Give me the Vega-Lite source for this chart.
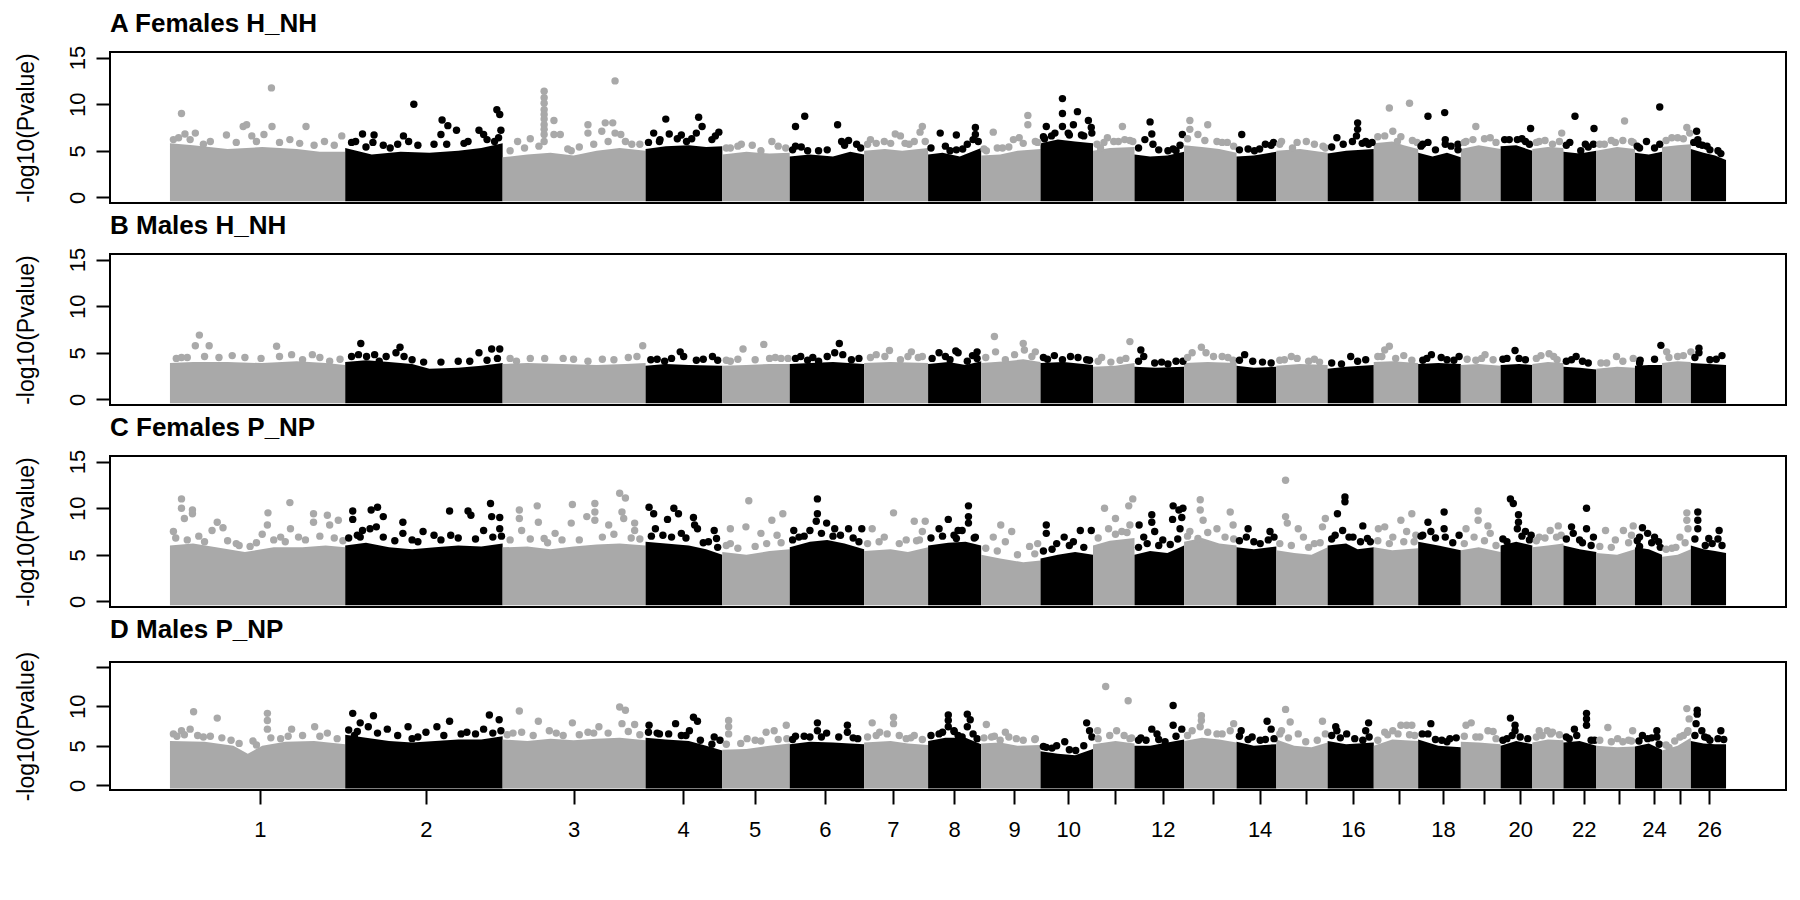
{
  "$schema": "https://vega.github.io/schema/vega-lite/v6.json",
  "padding": {"left": 14, "top": 10, "right": 5, "bottom": 5},
  "spacing": 7,
  "config": {
    "font": "Liberation Sans",
    "view": {"stroke": "#000000", "strokeWidth": 2},
    "axis": {"grid": false, "domain": false, "tickColor": "#000000", "tickWidth": 2, "tickSize": 14,
             "labelColor": "#000000", "labelFontSize": 22, "labelFont": "Liberation Sans",
             "titleColor": "#000000", "titleFontSize": 23, "titleFontWeight": "normal", "titleFont": "Liberation Sans"},
    "axisY": {"labelAngle": 270, "labelAlign": "center", "labelBaseline": "alphabetic", "labelPadding": 12, "titlePadding": 28},
    "axisX": {"labelAngle": 0, "labelPadding": 15, "labelFlush": false, "labelOverlap": false},
    "title": {"anchor": "start", "frame": "group", "fontSize": 26, "fontWeight": "bold", "color": "#000000", "offset": 8}
  },
  "resolve": {"scale": {"x": "independent", "y": "independent", "color": "shared"}},
  "datasets": {
    "band": [
      {"panel":"A","chr":1,"pos":0,"y":5.8},{"panel":"A","chr":1,"pos":40,"y":5.6},{"panel":"A","chr":1,"pos":100,"y":5.2},{"panel":"A","chr":1,"pos":160,"y":5.4},{"panel":"A","chr":1,"pos":220,"y":5.2},{"panel":"A","chr":1,"pos":260,"y":4.9},{"panel":"A","chr":1,"pos":304,"y":4.9},
      {"panel":"A","chr":2,"pos":304,"y":5.3},{"panel":"A","chr":2,"pos":350,"y":4.6},{"panel":"A","chr":2,"pos":400,"y":4.9},{"panel":"A","chr":2,"pos":450,"y":4.8},{"panel":"A","chr":2,"pos":500,"y":5.0},{"panel":"A","chr":2,"pos":540,"y":5.3},{"panel":"A","chr":2,"pos":577,"y":5.8},
      {"panel":"A","chr":3,"pos":577,"y":4.3},{"panel":"A","chr":3,"pos":620,"y":4.6},{"panel":"A","chr":3,"pos":660,"y":4.8},{"panel":"A","chr":3,"pos":700,"y":4.5},{"panel":"A","chr":3,"pos":740,"y":5.0},{"panel":"A","chr":3,"pos":780,"y":5.3},{"panel":"A","chr":3,"pos":825,"y":5.0},
      {"panel":"A","chr":4,"pos":825,"y":5.2},{"panel":"A","chr":4,"pos":860,"y":5.5},{"panel":"A","chr":4,"pos":900,"y":5.6},{"panel":"A","chr":4,"pos":930,"y":5.4},{"panel":"A","chr":4,"pos":958,"y":5.5},
      {"panel":"A","chr":5,"pos":958,"y":4.6},{"panel":"A","chr":5,"pos":1000,"y":4.9},{"panel":"A","chr":5,"pos":1040,"y":4.7},{"panel":"A","chr":5,"pos":1075,"y":4.8},
      {"panel":"A","chr":6,"pos":1075,"y":4.4},{"panel":"A","chr":6,"pos":1110,"y":4.6},{"panel":"A","chr":6,"pos":1150,"y":4.4},{"panel":"A","chr":6,"pos":1180,"y":4.9},{"panel":"A","chr":6,"pos":1204,"y":4.6},
      {"panel":"A","chr":7,"pos":1204,"y":5.0},{"panel":"A","chr":7,"pos":1240,"y":5.2},{"panel":"A","chr":7,"pos":1270,"y":5.0},{"panel":"A","chr":7,"pos":1315,"y":5.3},
      {"panel":"A","chr":8,"pos":1315,"y":4.6},{"panel":"A","chr":8,"pos":1340,"y":4.8},{"panel":"A","chr":8,"pos":1370,"y":4.4},{"panel":"A","chr":8,"pos":1407,"y":5.3},
      {"panel":"A","chr":9,"pos":1407,"y":4.5},{"panel":"A","chr":9,"pos":1440,"y":4.6},{"panel":"A","chr":9,"pos":1470,"y":5.0},{"panel":"A","chr":9,"pos":1510,"y":5.2},
      {"panel":"A","chr":10,"pos":1510,"y":5.8},{"panel":"A","chr":10,"pos":1540,"y":6.2},{"panel":"A","chr":10,"pos":1570,"y":6.0},{"panel":"A","chr":10,"pos":1601,"y":5.8},
      {"panel":"A","chr":11,"pos":1601,"y":5.0},{"panel":"A","chr":11,"pos":1630,"y":5.3},{"panel":"A","chr":11,"pos":1673,"y":5.4},
      {"panel":"A","chr":12,"pos":1673,"y":4.6},{"panel":"A","chr":12,"pos":1700,"y":4.4},{"panel":"A","chr":12,"pos":1730,"y":4.5},{"panel":"A","chr":12,"pos":1759,"y":4.9},
      {"panel":"A","chr":13,"pos":1759,"y":5.6},{"panel":"A","chr":13,"pos":1790,"y":5.4},{"panel":"A","chr":13,"pos":1820,"y":5.2},{"panel":"A","chr":13,"pos":1850,"y":4.8},
      {"panel":"A","chr":14,"pos":1850,"y":4.4},{"panel":"A","chr":14,"pos":1880,"y":4.5},{"panel":"A","chr":14,"pos":1919,"y":4.9},
      {"panel":"A","chr":15,"pos":1919,"y":5.0},{"panel":"A","chr":15,"pos":1960,"y":5.2},{"panel":"A","chr":15,"pos":2008,"y":4.8},
      {"panel":"A","chr":16,"pos":2008,"y":4.7},{"panel":"A","chr":16,"pos":2040,"y":5.0},{"panel":"A","chr":16,"pos":2088,"y":5.2},
      {"panel":"A","chr":17,"pos":2088,"y":5.8},{"panel":"A","chr":17,"pos":2120,"y":6.0},{"panel":"A","chr":17,"pos":2140,"y":5.6},{"panel":"A","chr":17,"pos":2165,"y":5.2},
      {"panel":"A","chr":18,"pos":2165,"y":4.8},{"panel":"A","chr":18,"pos":2190,"y":4.4},{"panel":"A","chr":18,"pos":2215,"y":4.8},{"panel":"A","chr":18,"pos":2239,"y":4.3},
      {"panel":"A","chr":19,"pos":2239,"y":5.2},{"panel":"A","chr":19,"pos":2270,"y":5.6},{"panel":"A","chr":19,"pos":2308,"y":5.2},
      {"panel":"A","chr":20,"pos":2308,"y":5.5},{"panel":"A","chr":20,"pos":2335,"y":5.6},{"panel":"A","chr":20,"pos":2363,"y":5.0},
      {"panel":"A","chr":21,"pos":2363,"y":5.2},{"panel":"A","chr":21,"pos":2390,"y":5.4},{"panel":"A","chr":21,"pos":2417,"y":5.3},
      {"panel":"A","chr":22,"pos":2417,"y":4.9},{"panel":"A","chr":22,"pos":2445,"y":4.7},{"panel":"A","chr":22,"pos":2474,"y":5.0},
      {"panel":"A","chr":23,"pos":2474,"y":5.0},{"panel":"A","chr":23,"pos":2510,"y":5.4},{"panel":"A","chr":23,"pos":2541,"y":5.2},
      {"panel":"A","chr":24,"pos":2541,"y":4.8},{"panel":"A","chr":24,"pos":2565,"y":4.6},{"panel":"A","chr":24,"pos":2588,"y":4.9},
      {"panel":"A","chr":25,"pos":2588,"y":5.4},{"panel":"A","chr":25,"pos":2615,"y":5.6},{"panel":"A","chr":25,"pos":2638,"y":5.7},
      {"panel":"A","chr":26,"pos":2638,"y":5.2},{"panel":"A","chr":26,"pos":2660,"y":4.8},{"panel":"A","chr":26,"pos":2680,"y":4.5},{"panel":"A","chr":26,"pos":2699,"y":4.0},

      {"panel":"B","chr":1,"pos":0,"y":3.9},{"panel":"B","chr":1,"pos":40,"y":4.0},{"panel":"B","chr":1,"pos":100,"y":4.0},{"panel":"B","chr":1,"pos":160,"y":3.9},{"panel":"B","chr":1,"pos":220,"y":4.1},{"panel":"B","chr":1,"pos":270,"y":3.9},{"panel":"B","chr":1,"pos":304,"y":3.7},
      {"panel":"B","chr":2,"pos":304,"y":4.0},{"panel":"B","chr":2,"pos":340,"y":4.2},{"panel":"B","chr":2,"pos":380,"y":4.0},{"panel":"B","chr":2,"pos":420,"y":3.8},{"panel":"B","chr":2,"pos":450,"y":3.3},{"panel":"B","chr":2,"pos":500,"y":3.4},{"panel":"B","chr":2,"pos":540,"y":3.6},{"panel":"B","chr":2,"pos":577,"y":3.9},
      {"panel":"B","chr":3,"pos":577,"y":3.8},{"panel":"B","chr":3,"pos":620,"y":3.9},{"panel":"B","chr":3,"pos":680,"y":3.8},{"panel":"B","chr":3,"pos":740,"y":3.7},{"panel":"B","chr":3,"pos":790,"y":3.8},{"panel":"B","chr":3,"pos":825,"y":3.9},
      {"panel":"B","chr":4,"pos":825,"y":3.6},{"panel":"B","chr":4,"pos":860,"y":3.8},{"panel":"B","chr":4,"pos":900,"y":3.7},{"panel":"B","chr":4,"pos":958,"y":3.6},
      {"panel":"B","chr":5,"pos":958,"y":3.6},{"panel":"B","chr":5,"pos":1000,"y":3.7},{"panel":"B","chr":5,"pos":1040,"y":3.8},{"panel":"B","chr":5,"pos":1075,"y":3.8},
      {"panel":"B","chr":6,"pos":1075,"y":3.8},{"panel":"B","chr":6,"pos":1110,"y":3.9},{"panel":"B","chr":6,"pos":1150,"y":4.0},{"panel":"B","chr":6,"pos":1204,"y":3.8},
      {"panel":"B","chr":7,"pos":1204,"y":3.9},{"panel":"B","chr":7,"pos":1250,"y":4.0},{"panel":"B","chr":7,"pos":1315,"y":3.9},
      {"panel":"B","chr":8,"pos":1315,"y":3.8},{"panel":"B","chr":8,"pos":1350,"y":4.0},{"panel":"B","chr":8,"pos":1380,"y":3.7},{"panel":"B","chr":8,"pos":1407,"y":4.1},
      {"panel":"B","chr":9,"pos":1407,"y":3.9},{"panel":"B","chr":9,"pos":1450,"y":4.1},{"panel":"B","chr":9,"pos":1480,"y":4.3},{"panel":"B","chr":9,"pos":1510,"y":4.0},
      {"panel":"B","chr":10,"pos":1510,"y":3.9},{"panel":"B","chr":10,"pos":1550,"y":4.0},{"panel":"B","chr":10,"pos":1601,"y":3.7},
      {"panel":"B","chr":11,"pos":1601,"y":3.5},{"panel":"B","chr":11,"pos":1640,"y":3.6},{"panel":"B","chr":11,"pos":1673,"y":3.9},
      {"panel":"B","chr":12,"pos":1673,"y":3.5},{"panel":"B","chr":12,"pos":1710,"y":3.4},{"panel":"B","chr":12,"pos":1759,"y":3.5},
      {"panel":"B","chr":13,"pos":1759,"y":3.9},{"panel":"B","chr":13,"pos":1800,"y":4.0},{"panel":"B","chr":13,"pos":1850,"y":3.9},
      {"panel":"B","chr":14,"pos":1850,"y":3.6},{"panel":"B","chr":14,"pos":1880,"y":3.4},{"panel":"B","chr":14,"pos":1919,"y":3.5},
      {"panel":"B","chr":15,"pos":1919,"y":3.6},{"panel":"B","chr":15,"pos":1960,"y":3.8},{"panel":"B","chr":15,"pos":2008,"y":3.7},
      {"panel":"B","chr":16,"pos":2008,"y":3.3},{"panel":"B","chr":16,"pos":2040,"y":3.5},{"panel":"B","chr":16,"pos":2088,"y":3.7},
      {"panel":"B","chr":17,"pos":2088,"y":4.0},{"panel":"B","chr":17,"pos":2120,"y":4.1},{"panel":"B","chr":17,"pos":2165,"y":3.9},
      {"panel":"B","chr":18,"pos":2165,"y":3.8},{"panel":"B","chr":18,"pos":2200,"y":3.9},{"panel":"B","chr":18,"pos":2239,"y":3.8},
      {"panel":"B","chr":19,"pos":2239,"y":3.7},{"panel":"B","chr":19,"pos":2270,"y":3.8},{"panel":"B","chr":19,"pos":2308,"y":3.6},
      {"panel":"B","chr":20,"pos":2308,"y":3.7},{"panel":"B","chr":20,"pos":2340,"y":3.8},{"panel":"B","chr":20,"pos":2363,"y":3.7},
      {"panel":"B","chr":21,"pos":2363,"y":3.8},{"panel":"B","chr":21,"pos":2390,"y":4.0},{"panel":"B","chr":21,"pos":2417,"y":3.9},
      {"panel":"B","chr":22,"pos":2417,"y":3.5},{"panel":"B","chr":22,"pos":2445,"y":3.4},{"panel":"B","chr":22,"pos":2474,"y":3.2},
      {"panel":"B","chr":23,"pos":2474,"y":3.3},{"panel":"B","chr":23,"pos":2510,"y":3.5},{"panel":"B","chr":23,"pos":2541,"y":3.4},
      {"panel":"B","chr":24,"pos":2541,"y":3.6},{"panel":"B","chr":24,"pos":2565,"y":3.7},{"panel":"B","chr":24,"pos":2588,"y":3.7},
      {"panel":"B","chr":25,"pos":2588,"y":3.9},{"panel":"B","chr":25,"pos":2615,"y":4.1},{"panel":"B","chr":25,"pos":2638,"y":4.0},
      {"panel":"B","chr":26,"pos":2638,"y":3.9},{"panel":"B","chr":26,"pos":2670,"y":3.8},{"panel":"B","chr":26,"pos":2699,"y":3.7},

      {"panel":"C","chr":1,"pos":0,"y":6.0},{"panel":"C","chr":1,"pos":40,"y":6.2},{"panel":"C","chr":1,"pos":80,"y":5.8},{"panel":"C","chr":1,"pos":130,"y":5.3},{"panel":"C","chr":1,"pos":180,"y":5.8},{"panel":"C","chr":1,"pos":230,"y":5.8},{"panel":"C","chr":1,"pos":270,"y":6.0},{"panel":"C","chr":1,"pos":304,"y":5.8},
      {"panel":"C","chr":2,"pos":304,"y":6.0},{"panel":"C","chr":2,"pos":340,"y":6.3},{"panel":"C","chr":2,"pos":380,"y":5.8},{"panel":"C","chr":2,"pos":420,"y":5.6},{"panel":"C","chr":2,"pos":460,"y":5.8},{"panel":"C","chr":2,"pos":500,"y":6.0},{"panel":"C","chr":2,"pos":540,"y":5.9},{"panel":"C","chr":2,"pos":577,"y":6.2},
      {"panel":"C","chr":3,"pos":577,"y":5.8},{"panel":"C","chr":3,"pos":620,"y":5.9},{"panel":"C","chr":3,"pos":660,"y":5.6},{"panel":"C","chr":3,"pos":700,"y":5.9},{"panel":"C","chr":3,"pos":740,"y":6.1},{"panel":"C","chr":3,"pos":780,"y":6.2},{"panel":"C","chr":3,"pos":825,"y":6.0},
      {"panel":"C","chr":4,"pos":825,"y":6.4},{"panel":"C","chr":4,"pos":860,"y":6.2},{"panel":"C","chr":4,"pos":900,"y":6.0},{"panel":"C","chr":4,"pos":930,"y":5.6},{"panel":"C","chr":4,"pos":958,"y":5.0},
      {"panel":"C","chr":5,"pos":958,"y":5.3},{"panel":"C","chr":5,"pos":1000,"y":5.0},{"panel":"C","chr":5,"pos":1040,"y":5.4},{"panel":"C","chr":5,"pos":1075,"y":5.6},
      {"panel":"C","chr":6,"pos":1075,"y":5.8},{"panel":"C","chr":6,"pos":1110,"y":6.4},{"panel":"C","chr":6,"pos":1140,"y":6.6},{"panel":"C","chr":6,"pos":1170,"y":6.2},{"panel":"C","chr":6,"pos":1204,"y":5.6},
      {"panel":"C","chr":7,"pos":1204,"y":5.4},{"panel":"C","chr":7,"pos":1250,"y":5.6},{"panel":"C","chr":7,"pos":1280,"y":5.3},{"panel":"C","chr":7,"pos":1315,"y":5.8},
      {"panel":"C","chr":8,"pos":1315,"y":6.0},{"panel":"C","chr":8,"pos":1350,"y":6.3},{"panel":"C","chr":8,"pos":1380,"y":6.4},{"panel":"C","chr":8,"pos":1407,"y":6.0},
      {"panel":"C","chr":9,"pos":1407,"y":5.0},{"panel":"C","chr":9,"pos":1440,"y":4.6},{"panel":"C","chr":9,"pos":1480,"y":4.2},{"panel":"C","chr":9,"pos":1510,"y":4.4},
      {"panel":"C","chr":10,"pos":1510,"y":4.6},{"panel":"C","chr":10,"pos":1540,"y":5.0},{"panel":"C","chr":10,"pos":1570,"y":5.3},{"panel":"C","chr":10,"pos":1601,"y":5.0},
      {"panel":"C","chr":11,"pos":1601,"y":6.0},{"panel":"C","chr":11,"pos":1630,"y":6.5},{"panel":"C","chr":11,"pos":1673,"y":6.8},
      {"panel":"C","chr":12,"pos":1673,"y":5.0},{"panel":"C","chr":12,"pos":1700,"y":5.4},{"panel":"C","chr":12,"pos":1730,"y":5.2},{"panel":"C","chr":12,"pos":1759,"y":6.0},
      {"panel":"C","chr":13,"pos":1759,"y":6.4},{"panel":"C","chr":13,"pos":1790,"y":6.8},{"panel":"C","chr":13,"pos":1820,"y":6.2},{"panel":"C","chr":13,"pos":1850,"y":6.0},
      {"panel":"C","chr":14,"pos":1850,"y":5.8},{"panel":"C","chr":14,"pos":1880,"y":5.6},{"panel":"C","chr":14,"pos":1919,"y":5.9},
      {"panel":"C","chr":15,"pos":1919,"y":5.5},{"panel":"C","chr":15,"pos":1950,"y":5.2},{"panel":"C","chr":15,"pos":1980,"y":5.0},{"panel":"C","chr":15,"pos":2008,"y":5.8},
      {"panel":"C","chr":16,"pos":2008,"y":6.0},{"panel":"C","chr":16,"pos":2040,"y":6.2},{"panel":"C","chr":16,"pos":2060,"y":5.6},{"panel":"C","chr":16,"pos":2088,"y":5.8},
      {"panel":"C","chr":17,"pos":2088,"y":5.8},{"panel":"C","chr":17,"pos":2120,"y":5.5},{"panel":"C","chr":17,"pos":2165,"y":5.7},
      {"panel":"C","chr":18,"pos":2165,"y":6.4},{"panel":"C","chr":18,"pos":2200,"y":6.0},{"panel":"C","chr":18,"pos":2239,"y":5.5},
      {"panel":"C","chr":19,"pos":2239,"y":5.5},{"panel":"C","chr":19,"pos":2270,"y":5.8},{"panel":"C","chr":19,"pos":2308,"y":5.3},
      {"panel":"C","chr":20,"pos":2308,"y":6.0},{"panel":"C","chr":20,"pos":2335,"y":6.4},{"panel":"C","chr":20,"pos":2363,"y":6.0},
      {"panel":"C","chr":21,"pos":2363,"y":5.8},{"panel":"C","chr":21,"pos":2390,"y":6.0},{"panel":"C","chr":21,"pos":2417,"y":6.2},
      {"panel":"C","chr":22,"pos":2417,"y":6.0},{"panel":"C","chr":22,"pos":2445,"y":5.6},{"panel":"C","chr":22,"pos":2474,"y":5.3},
      {"panel":"C","chr":23,"pos":2474,"y":5.2},{"panel":"C","chr":23,"pos":2510,"y":5.0},{"panel":"C","chr":23,"pos":2541,"y":5.6},
      {"panel":"C","chr":24,"pos":2541,"y":5.8},{"panel":"C","chr":24,"pos":2565,"y":5.6},{"panel":"C","chr":24,"pos":2588,"y":5.0},
      {"panel":"C","chr":25,"pos":2588,"y":4.8},{"panel":"C","chr":25,"pos":2615,"y":5.0},{"panel":"C","chr":25,"pos":2638,"y":5.6},
      {"panel":"C","chr":26,"pos":2638,"y":6.0},{"panel":"C","chr":26,"pos":2660,"y":5.6},{"panel":"C","chr":26,"pos":2680,"y":5.4},{"panel":"C","chr":26,"pos":2699,"y":5.2},

      {"panel":"D","chr":1,"pos":0,"y":5.6},{"panel":"D","chr":1,"pos":60,"y":5.5},{"panel":"D","chr":1,"pos":110,"y":5.0},{"panel":"D","chr":1,"pos":135,"y":4.0},{"panel":"D","chr":1,"pos":160,"y":5.0},{"panel":"D","chr":1,"pos":200,"y":5.5},{"panel":"D","chr":1,"pos":250,"y":5.6},{"panel":"D","chr":1,"pos":304,"y":5.2},
      {"panel":"D","chr":2,"pos":304,"y":6.4},{"panel":"D","chr":2,"pos":340,"y":6.0},{"panel":"D","chr":2,"pos":380,"y":5.6},{"panel":"D","chr":2,"pos":420,"y":5.4},{"panel":"D","chr":2,"pos":460,"y":5.6},{"panel":"D","chr":2,"pos":500,"y":5.8},{"panel":"D","chr":2,"pos":540,"y":5.8},{"panel":"D","chr":2,"pos":577,"y":6.2},
      {"panel":"D","chr":3,"pos":577,"y":5.8},{"panel":"D","chr":3,"pos":620,"y":5.6},{"panel":"D","chr":3,"pos":660,"y":5.9},{"panel":"D","chr":3,"pos":700,"y":5.7},{"panel":"D","chr":3,"pos":740,"y":5.9},{"panel":"D","chr":3,"pos":780,"y":6.0},{"panel":"D","chr":3,"pos":825,"y":5.7},
      {"panel":"D","chr":4,"pos":825,"y":6.0},{"panel":"D","chr":4,"pos":860,"y":5.8},{"panel":"D","chr":4,"pos":900,"y":5.6},{"panel":"D","chr":4,"pos":930,"y":5.0},{"panel":"D","chr":4,"pos":958,"y":4.4},
      {"panel":"D","chr":5,"pos":958,"y":4.5},{"panel":"D","chr":5,"pos":1000,"y":4.6},{"panel":"D","chr":5,"pos":1040,"y":5.0},{"panel":"D","chr":5,"pos":1075,"y":5.3},
      {"panel":"D","chr":6,"pos":1075,"y":5.2},{"panel":"D","chr":6,"pos":1110,"y":5.5},{"panel":"D","chr":6,"pos":1150,"y":5.4},{"panel":"D","chr":6,"pos":1180,"y":5.3},{"panel":"D","chr":6,"pos":1204,"y":5.2},
      {"panel":"D","chr":7,"pos":1204,"y":5.4},{"panel":"D","chr":7,"pos":1250,"y":5.6},{"panel":"D","chr":7,"pos":1280,"y":5.3},{"panel":"D","chr":7,"pos":1315,"y":5.1},
      {"panel":"D","chr":8,"pos":1315,"y":5.6},{"panel":"D","chr":8,"pos":1345,"y":6.0},{"panel":"D","chr":8,"pos":1380,"y":6.0},{"panel":"D","chr":8,"pos":1407,"y":5.2},
      {"panel":"D","chr":9,"pos":1407,"y":5.3},{"panel":"D","chr":9,"pos":1440,"y":5.4},{"panel":"D","chr":9,"pos":1470,"y":5.0},{"panel":"D","chr":9,"pos":1510,"y":5.1},
      {"panel":"D","chr":10,"pos":1510,"y":4.3},{"panel":"D","chr":10,"pos":1540,"y":4.0},{"panel":"D","chr":10,"pos":1570,"y":3.8},{"panel":"D","chr":10,"pos":1601,"y":4.6},
      {"panel":"D","chr":11,"pos":1601,"y":5.2},{"panel":"D","chr":11,"pos":1640,"y":5.6},{"panel":"D","chr":11,"pos":1673,"y":5.3},
      {"panel":"D","chr":12,"pos":1673,"y":5.0},{"panel":"D","chr":12,"pos":1700,"y":5.0},{"panel":"D","chr":12,"pos":1730,"y":5.4},{"panel":"D","chr":12,"pos":1759,"y":5.8},
      {"panel":"D","chr":13,"pos":1759,"y":5.6},{"panel":"D","chr":13,"pos":1790,"y":6.0},{"panel":"D","chr":13,"pos":1820,"y":5.8},{"panel":"D","chr":13,"pos":1850,"y":5.4},
      {"panel":"D","chr":14,"pos":1850,"y":5.5},{"panel":"D","chr":14,"pos":1880,"y":5.0},{"panel":"D","chr":14,"pos":1919,"y":5.2},
      {"panel":"D","chr":15,"pos":1919,"y":5.8},{"panel":"D","chr":15,"pos":1950,"y":5.0},{"panel":"D","chr":15,"pos":1980,"y":4.8},{"panel":"D","chr":15,"pos":2008,"y":5.4},
      {"panel":"D","chr":16,"pos":2008,"y":5.6},{"panel":"D","chr":16,"pos":2040,"y":5.2},{"panel":"D","chr":16,"pos":2088,"y":5.4},
      {"panel":"D","chr":17,"pos":2088,"y":5.0},{"panel":"D","chr":17,"pos":2120,"y":5.8},{"panel":"D","chr":17,"pos":2165,"y":5.6},
      {"panel":"D","chr":18,"pos":2165,"y":5.8},{"panel":"D","chr":18,"pos":2200,"y":5.0},{"panel":"D","chr":18,"pos":2239,"y":4.8},
      {"panel":"D","chr":19,"pos":2239,"y":5.5},{"panel":"D","chr":19,"pos":2270,"y":5.4},{"panel":"D","chr":19,"pos":2308,"y":5.2},
      {"panel":"D","chr":20,"pos":2308,"y":5.0},{"panel":"D","chr":20,"pos":2335,"y":5.6},{"panel":"D","chr":20,"pos":2363,"y":5.2},
      {"panel":"D","chr":21,"pos":2363,"y":5.4},{"panel":"D","chr":21,"pos":2390,"y":5.8},{"panel":"D","chr":21,"pos":2417,"y":5.7},
      {"panel":"D","chr":22,"pos":2417,"y":5.4},{"panel":"D","chr":22,"pos":2445,"y":5.6},{"panel":"D","chr":22,"pos":2474,"y":5.0},
      {"panel":"D","chr":23,"pos":2474,"y":5.0},{"panel":"D","chr":23,"pos":2510,"y":4.8},{"panel":"D","chr":23,"pos":2541,"y":4.9},
      {"panel":"D","chr":24,"pos":2541,"y":4.9},{"panel":"D","chr":24,"pos":2565,"y":5.3},{"panel":"D","chr":24,"pos":2588,"y":4.5},
      {"panel":"D","chr":25,"pos":2588,"y":4.4},{"panel":"D","chr":25,"pos":2615,"y":5.0},{"panel":"D","chr":25,"pos":2638,"y":6.0},
      {"panel":"D","chr":26,"pos":2638,"y":5.6},{"panel":"D","chr":26,"pos":2660,"y":5.3},{"panel":"D","chr":26,"pos":2680,"y":5.2},{"panel":"D","chr":26,"pos":2699,"y":5.2}
    ],
    "snp": [
      {"panel":"A","chr":1,"pos":20,"y":9.0},{"panel":"A","chr":1,"pos":176,"y":11.75},{"panel":"A","chr":1,"pos":133,"y":7.8},{"panel":"A","chr":1,"pos":127,"y":7.6},{"panel":"A","chr":1,"pos":177,"y":7.6},{"panel":"A","chr":1,"pos":236,"y":7.6},{"panel":"A","chr":1,"pos":44,"y":6.9},{"panel":"A","chr":1,"pos":26,"y":6.8},{"panel":"A","chr":1,"pos":98,"y":6.7},{"panel":"A","chr":1,"pos":142,"y":6.6},{"panel":"A","chr":1,"pos":163,"y":6.75},{"panel":"A","chr":1,"pos":208,"y":6.2},{"panel":"A","chr":1,"pos":298,"y":6.6},{"panel":"A","chr":1,"pos":268,"y":6.0},{"panel":"A","chr":1,"pos":6,"y":6.2},{"panel":"A","chr":1,"pos":58,"y":5.7},
      {"panel":"A","chr":1,"pos":15,"y":6.4},{"panel":"A","chr":1,"pos":35,"y":6.2},{"panel":"A","chr":1,"pos":70,"y":6.0},{"panel":"A","chr":1,"pos":115,"y":5.9},{"panel":"A","chr":1,"pos":150,"y":6.0},{"panel":"A","chr":1,"pos":190,"y":5.9},{"panel":"A","chr":1,"pos":225,"y":5.8},{"panel":"A","chr":1,"pos":250,"y":5.6},{"panel":"A","chr":1,"pos":285,"y":5.6},
      {"panel":"A","chr":2,"pos":423,"y":10.0},{"panel":"A","chr":2,"pos":567,"y":9.4},{"panel":"A","chr":2,"pos":572,"y":8.9},{"panel":"A","chr":2,"pos":472,"y":8.3},{"panel":"A","chr":2,"pos":482,"y":7.7},{"panel":"A","chr":2,"pos":497,"y":7.2},{"panel":"A","chr":2,"pos":574,"y":7.2},{"panel":"A","chr":2,"pos":334,"y":6.8},{"panel":"A","chr":2,"pos":354,"y":6.7},{"panel":"A","chr":2,"pos":405,"y":6.6},{"panel":"A","chr":2,"pos":517,"y":6.0},{"panel":"A","chr":2,"pos":536,"y":7.2},{"panel":"A","chr":2,"pos":544,"y":6.75},{"panel":"A","chr":2,"pos":470,"y":6.75},{"panel":"A","chr":2,"pos":458,"y":5.7},{"panel":"A","chr":2,"pos":382,"y":5.3},{"panel":"A","chr":2,"pos":322,"y":6.0},{"panel":"A","chr":2,"pos":352,"y":5.9},{"panel":"A","chr":2,"pos":414,"y":6.0},{"panel":"A","chr":2,"pos":563,"y":6.0},
      {"panel":"A","chr":2,"pos":315,"y":5.9},{"panel":"A","chr":2,"pos":340,"y":5.4},{"panel":"A","chr":2,"pos":370,"y":5.6},{"panel":"A","chr":2,"pos":395,"y":5.7},{"panel":"A","chr":2,"pos":430,"y":5.6},{"panel":"A","chr":2,"pos":480,"y":5.7},{"panel":"A","chr":2,"pos":510,"y":5.8},{"panel":"A","chr":2,"pos":550,"y":6.2},{"panel":"A","chr":2,"pos":570,"y":6.4},
      {"panel":"A","chr":3,"pos":649,"y":11.4},{"panel":"A","chr":3,"pos":649,"y":10.7},{"panel":"A","chr":3,"pos":649,"y":10.1},{"panel":"A","chr":3,"pos":649,"y":9.4},{"panel":"A","chr":3,"pos":649,"y":8.9},{"panel":"A","chr":3,"pos":649,"y":8.4},{"panel":"A","chr":3,"pos":649,"y":7.8},{"panel":"A","chr":3,"pos":649,"y":7.3},{"panel":"A","chr":3,"pos":649,"y":6.75},{"panel":"A","chr":3,"pos":649,"y":6.0},{"panel":"A","chr":3,"pos":772,"y":12.5},{"panel":"A","chr":3,"pos":666,"y":8.25},{"panel":"A","chr":3,"pos":666,"y":6.75},{"panel":"A","chr":3,"pos":677,"y":6.75},{"panel":"A","chr":3,"pos":725,"y":7.8},{"panel":"A","chr":3,"pos":725,"y":6.9},{"panel":"A","chr":3,"pos":755,"y":8.0},{"panel":"A","chr":3,"pos":768,"y":8.0},{"panel":"A","chr":3,"pos":749,"y":7.1},{"panel":"A","chr":3,"pos":772,"y":6.9},{"panel":"A","chr":3,"pos":782,"y":6.75},{"panel":"A","chr":3,"pos":625,"y":6.3},{"panel":"A","chr":3,"pos":603,"y":6.0},{"panel":"A","chr":3,"pos":801,"y":5.7},{"panel":"A","chr":3,"pos":696,"y":5.0},
      {"panel":"A","chr":3,"pos":590,"y":5.0},{"panel":"A","chr":3,"pos":615,"y":5.3},{"panel":"A","chr":3,"pos":640,"y":5.5},{"panel":"A","chr":3,"pos":690,"y":5.2},{"panel":"A","chr":3,"pos":710,"y":5.4},{"panel":"A","chr":3,"pos":735,"y":5.7},{"panel":"A","chr":3,"pos":760,"y":6.0},{"panel":"A","chr":3,"pos":790,"y":6.0},{"panel":"A","chr":3,"pos":815,"y":5.7},
      {"panel":"A","chr":4,"pos":860,"y":8.4},{"panel":"A","chr":4,"pos":917,"y":8.6},{"panel":"A","chr":4,"pos":923,"y":7.6},{"panel":"A","chr":4,"pos":913,"y":6.9},{"panel":"A","chr":4,"pos":839,"y":6.9},{"panel":"A","chr":4,"pos":866,"y":6.8},{"panel":"A","chr":4,"pos":887,"y":6.7},{"panel":"A","chr":4,"pos":952,"y":7.0},{"panel":"A","chr":4,"pos":946,"y":6.6},{"panel":"A","chr":4,"pos":849,"y":6.0},{"panel":"A","chr":4,"pos":896,"y":6.0},
      {"panel":"A","chr":4,"pos":830,"y":5.9},{"panel":"A","chr":4,"pos":850,"y":6.2},{"panel":"A","chr":4,"pos":880,"y":6.3},{"panel":"A","chr":4,"pos":905,"y":6.3},{"panel":"A","chr":4,"pos":940,"y":6.2},
      {"panel":"A","chr":5,"pos":991,"y":5.7},{"panel":"A","chr":5,"pos":1044,"y":6.0},{"panel":"A","chr":5,"pos":972,"y":5.3},{"panel":"A","chr":5,"pos":1025,"y":5.0},{"panel":"A","chr":5,"pos":1068,"y":5.3},
      {"panel":"A","chr":5,"pos":965,"y":5.3},{"panel":"A","chr":5,"pos":985,"y":5.5},{"panel":"A","chr":5,"pos":1010,"y":5.6},{"panel":"A","chr":5,"pos":1055,"y":5.5},
      {"panel":"A","chr":6,"pos":1101,"y":8.7},{"panel":"A","chr":6,"pos":1085,"y":7.6},{"panel":"A","chr":6,"pos":1158,"y":7.8},{"panel":"A","chr":6,"pos":1177,"y":6.1},{"panel":"A","chr":6,"pos":1165,"y":6.0},{"panel":"A","chr":6,"pos":1085,"y":5.5},{"panel":"A","chr":6,"pos":1106,"y":5.0},{"panel":"A","chr":6,"pos":1125,"y":5.0},{"panel":"A","chr":6,"pos":1191,"y":5.7},
      {"panel":"A","chr":6,"pos":1080,"y":5.1},{"panel":"A","chr":6,"pos":1095,"y":5.4},{"panel":"A","chr":6,"pos":1140,"y":5.1},{"panel":"A","chr":6,"pos":1170,"y":5.6},{"panel":"A","chr":6,"pos":1198,"y":5.3},
      {"panel":"A","chr":7,"pos":1305,"y":7.6},{"panel":"A","chr":7,"pos":1301,"y":7.0},{"panel":"A","chr":7,"pos":1258,"y":6.8},{"panel":"A","chr":7,"pos":1267,"y":6.6},{"panel":"A","chr":7,"pos":1291,"y":6.0},{"panel":"A","chr":7,"pos":1215,"y":6.2},{"panel":"A","chr":7,"pos":1239,"y":6.0},{"panel":"A","chr":7,"pos":1282,"y":5.7},
      {"panel":"A","chr":7,"pos":1210,"y":5.7},{"panel":"A","chr":7,"pos":1225,"y":5.8},{"panel":"A","chr":7,"pos":1250,"y":5.8},{"panel":"A","chr":7,"pos":1275,"y":5.8},{"panel":"A","chr":7,"pos":1310,"y":6.0},
      {"panel":"A","chr":8,"pos":1336,"y":6.9},{"panel":"A","chr":8,"pos":1364,"y":6.7},{"panel":"A","chr":8,"pos":1353,"y":5.0},{"panel":"A","chr":8,"pos":1397,"y":7.5},{"panel":"A","chr":8,"pos":1397,"y":6.75},{"panel":"A","chr":8,"pos":1364,"y":5.1},{"panel":"A","chr":8,"pos":1383,"y":5.7},{"panel":"A","chr":8,"pos":1393,"y":6.2},
      {"panel":"A","chr":8,"pos":1320,"y":5.3},{"panel":"A","chr":8,"pos":1345,"y":5.5},{"panel":"A","chr":8,"pos":1375,"y":5.2},{"panel":"A","chr":8,"pos":1402,"y":6.0},
      {"panel":"A","chr":9,"pos":1488,"y":8.8},{"panel":"A","chr":9,"pos":1488,"y":7.8},{"panel":"A","chr":9,"pos":1428,"y":7.0},{"panel":"A","chr":9,"pos":1473,"y":6.4},{"panel":"A","chr":9,"pos":1463,"y":6.2},{"panel":"A","chr":9,"pos":1444,"y":5.3},{"panel":"A","chr":9,"pos":1501,"y":6.0},{"panel":"A","chr":9,"pos":1416,"y":5.0},
      {"panel":"A","chr":9,"pos":1412,"y":5.2},{"panel":"A","chr":9,"pos":1435,"y":5.3},{"panel":"A","chr":9,"pos":1455,"y":5.4},{"panel":"A","chr":9,"pos":1480,"y":5.8},{"panel":"A","chr":9,"pos":1505,"y":5.9},
      {"panel":"A","chr":10,"pos":1548,"y":10.6},{"panel":"A","chr":10,"pos":1548,"y":9.0},{"panel":"A","chr":10,"pos":1574,"y":9.2},{"panel":"A","chr":10,"pos":1567,"y":7.8},{"panel":"A","chr":10,"pos":1593,"y":8.25},{"panel":"A","chr":10,"pos":1520,"y":7.6},{"panel":"A","chr":10,"pos":1548,"y":7.6},{"panel":"A","chr":10,"pos":1598,"y":7.5},{"panel":"A","chr":10,"pos":1558,"y":6.9},{"panel":"A","chr":10,"pos":1581,"y":6.7},{"panel":"A","chr":10,"pos":1529,"y":6.6},{"panel":"A","chr":10,"pos":1599,"y":6.9},{"panel":"A","chr":10,"pos":1517,"y":6.3},
      {"panel":"A","chr":10,"pos":1515,"y":6.5},{"panel":"A","chr":10,"pos":1535,"y":6.9},{"panel":"A","chr":10,"pos":1560,"y":6.7},{"panel":"A","chr":10,"pos":1585,"y":6.6},
      {"panel":"A","chr":11,"pos":1652,"y":7.6},{"panel":"A","chr":11,"pos":1626,"y":6.4},{"panel":"A","chr":11,"pos":1637,"y":6.0},{"panel":"A","chr":11,"pos":1656,"y":6.2},{"panel":"A","chr":11,"pos":1670,"y":6.0},{"panel":"A","chr":11,"pos":1614,"y":5.3},
      {"panel":"A","chr":11,"pos":1608,"y":5.7},{"panel":"A","chr":11,"pos":1620,"y":5.9},{"panel":"A","chr":11,"pos":1645,"y":6.0},{"panel":"A","chr":11,"pos":1665,"y":6.1},
      {"panel":"A","chr":12,"pos":1700,"y":8.1},{"panel":"A","chr":12,"pos":1703,"y":6.8},{"panel":"A","chr":12,"pos":1705,"y":5.7},{"panel":"A","chr":12,"pos":1691,"y":6.2},{"panel":"A","chr":12,"pos":1756,"y":6.75},{"panel":"A","chr":12,"pos":1731,"y":5.0},{"panel":"A","chr":12,"pos":1745,"y":5.0},
      {"panel":"A","chr":12,"pos":1680,"y":5.3},{"panel":"A","chr":12,"pos":1715,"y":5.1},{"panel":"A","chr":12,"pos":1740,"y":5.2},{"panel":"A","chr":12,"pos":1752,"y":5.6},
      {"panel":"A","chr":13,"pos":1769,"y":8.25},{"panel":"A","chr":13,"pos":1800,"y":7.8},{"panel":"A","chr":13,"pos":1769,"y":7.3},{"panel":"A","chr":13,"pos":1834,"y":5.9},{"panel":"A","chr":13,"pos":1783,"y":6.75},{"panel":"A","chr":13,"pos":1816,"y":6.0},
      {"panel":"A","chr":13,"pos":1765,"y":6.3},{"panel":"A","chr":13,"pos":1795,"y":6.1},{"panel":"A","chr":13,"pos":1825,"y":5.9},{"panel":"A","chr":13,"pos":1845,"y":5.5},
      {"panel":"A","chr":14,"pos":1859,"y":6.75},{"panel":"A","chr":14,"pos":1881,"y":5.0},{"panel":"A","chr":14,"pos":1914,"y":5.9},{"panel":"A","chr":14,"pos":1900,"y":5.7},
      {"panel":"A","chr":14,"pos":1855,"y":5.1},{"panel":"A","chr":14,"pos":1870,"y":5.2},{"panel":"A","chr":14,"pos":1890,"y":5.2},{"panel":"A","chr":14,"pos":1910,"y":5.6},
      {"panel":"A","chr":15,"pos":1971,"y":6.0},{"panel":"A","chr":15,"pos":1928,"y":6.0},{"panel":"A","chr":15,"pos":2004,"y":5.3},{"panel":"A","chr":15,"pos":1947,"y":5.3},
      {"panel":"A","chr":15,"pos":1925,"y":5.7},{"panel":"A","chr":15,"pos":1955,"y":5.9},{"panel":"A","chr":15,"pos":1985,"y":5.7},{"panel":"A","chr":15,"pos":2000,"y":5.5},
      {"panel":"A","chr":16,"pos":2060,"y":8.0},{"panel":"A","chr":16,"pos":2060,"y":7.3},{"panel":"A","chr":16,"pos":2058,"y":6.6},{"panel":"A","chr":16,"pos":2024,"y":6.4},{"panel":"A","chr":16,"pos":2074,"y":6.0},{"panel":"A","chr":16,"pos":2051,"y":6.0},{"panel":"A","chr":16,"pos":2079,"y":5.7},
      {"panel":"A","chr":16,"pos":2015,"y":5.4},{"panel":"A","chr":16,"pos":2035,"y":5.7},{"panel":"A","chr":16,"pos":2068,"y":5.8},{"panel":"A","chr":16,"pos":2085,"y":5.9},
      {"panel":"A","chr":17,"pos":2115,"y":9.6},{"panel":"A","chr":17,"pos":2150,"y":10.1},{"panel":"A","chr":17,"pos":2121,"y":7.1},{"panel":"A","chr":17,"pos":2107,"y":6.6},{"panel":"A","chr":17,"pos":2129,"y":6.0},{"panel":"A","chr":17,"pos":2163,"y":5.9},
      {"panel":"A","chr":17,"pos":2095,"y":6.5},{"panel":"A","chr":17,"pos":2135,"y":6.5},{"panel":"A","chr":17,"pos":2155,"y":6.1},
      {"panel":"A","chr":18,"pos":2182,"y":8.7},{"panel":"A","chr":18,"pos":2211,"y":9.1},{"panel":"A","chr":18,"pos":2182,"y":5.9},{"panel":"A","chr":18,"pos":2212,"y":6.2},{"panel":"A","chr":18,"pos":2212,"y":5.7},{"panel":"A","chr":18,"pos":2234,"y":5.7},{"panel":"A","chr":18,"pos":2234,"y":5.1},{"panel":"A","chr":18,"pos":2173,"y":5.7},
      {"panel":"A","chr":18,"pos":2170,"y":5.5},{"panel":"A","chr":18,"pos":2195,"y":5.1},{"panel":"A","chr":18,"pos":2222,"y":5.5},
      {"panel":"A","chr":19,"pos":2265,"y":7.6},{"panel":"A","chr":19,"pos":2248,"y":6.0},{"panel":"A","chr":19,"pos":2290,"y":6.4},
      {"panel":"A","chr":19,"pos":2245,"y":5.9},{"panel":"A","chr":19,"pos":2260,"y":6.2},{"panel":"A","chr":19,"pos":2280,"y":6.3},{"panel":"A","chr":19,"pos":2300,"y":5.9},
      {"panel":"A","chr":20,"pos":2360,"y":7.4},{"panel":"A","chr":20,"pos":2323,"y":6.2},{"panel":"A","chr":20,"pos":2337,"y":6.2},{"panel":"A","chr":20,"pos":2351,"y":6.0},
      {"panel":"A","chr":20,"pos":2315,"y":6.2},{"panel":"A","chr":20,"pos":2345,"y":6.3},{"panel":"A","chr":20,"pos":2358,"y":5.7},
      {"panel":"A","chr":21,"pos":2414,"y":6.9},{"panel":"A","chr":21,"pos":2375,"y":6.0},{"panel":"A","chr":21,"pos":2398,"y":5.7},
      {"panel":"A","chr":21,"pos":2370,"y":5.9},{"panel":"A","chr":21,"pos":2385,"y":6.1},{"panel":"A","chr":21,"pos":2410,"y":6.0},
      {"panel":"A","chr":22,"pos":2437,"y":8.7},{"panel":"A","chr":22,"pos":2470,"y":7.4},{"panel":"A","chr":22,"pos":2428,"y":5.9},{"panel":"A","chr":22,"pos":2455,"y":5.7},{"panel":"A","chr":22,"pos":2469,"y":5.7},{"panel":"A","chr":22,"pos":2447,"y":5.0},
      {"panel":"A","chr":22,"pos":2422,"y":5.6},{"panel":"A","chr":22,"pos":2460,"y":5.4},
      {"panel":"A","chr":23,"pos":2523,"y":8.2},{"panel":"A","chr":23,"pos":2507,"y":5.9},{"panel":"A","chr":23,"pos":2488,"y":5.7},{"panel":"A","chr":23,"pos":2535,"y":6.0},
      {"panel":"A","chr":23,"pos":2480,"y":5.7},{"panel":"A","chr":23,"pos":2500,"y":6.1},{"panel":"A","chr":23,"pos":2520,"y":6.1},{"panel":"A","chr":23,"pos":2538,"y":5.9},
      {"panel":"A","chr":24,"pos":2584,"y":9.7},{"panel":"A","chr":24,"pos":2561,"y":6.0},{"panel":"A","chr":24,"pos":2584,"y":5.7},{"panel":"A","chr":24,"pos":2549,"y":5.3},
      {"panel":"A","chr":24,"pos":2545,"y":5.5},{"panel":"A","chr":24,"pos":2575,"y":5.3},
      {"panel":"A","chr":25,"pos":2631,"y":7.5},{"panel":"A","chr":25,"pos":2605,"y":6.4},{"panel":"A","chr":25,"pos":2615,"y":6.4},{"panel":"A","chr":25,"pos":2636,"y":6.9},
      {"panel":"A","chr":25,"pos":2595,"y":6.1},{"panel":"A","chr":25,"pos":2625,"y":6.3},
      {"panel":"A","chr":26,"pos":2648,"y":7.1},{"panel":"A","chr":26,"pos":2650,"y":6.2},{"panel":"A","chr":26,"pos":2652,"y":5.7},{"panel":"A","chr":26,"pos":2666,"y":5.5},{"panel":"A","chr":26,"pos":2685,"y":5.0},{"panel":"A","chr":26,"pos":2671,"y":5.1},
      {"panel":"A","chr":26,"pos":2643,"y":5.9},{"panel":"A","chr":26,"pos":2658,"y":5.6},{"panel":"A","chr":26,"pos":2690,"y":4.7},

      {"panel":"B","chr":1,"pos":51,"y":6.9},{"panel":"B","chr":1,"pos":44,"y":5.75},{"panel":"B","chr":1,"pos":68,"y":5.75},{"panel":"B","chr":1,"pos":185,"y":5.7},{"panel":"B","chr":1,"pos":108,"y":4.7},{"panel":"B","chr":1,"pos":247,"y":4.8},{"panel":"B","chr":1,"pos":11,"y":4.4},{"panel":"B","chr":1,"pos":30,"y":4.5},{"panel":"B","chr":1,"pos":158,"y":4.4},{"panel":"B","chr":1,"pos":211,"y":4.8},{"panel":"B","chr":1,"pos":230,"y":4.25},{"panel":"B","chr":1,"pos":277,"y":4.1},
      {"panel":"B","chr":1,"pos":20,"y":4.5},{"panel":"B","chr":1,"pos":60,"y":4.6},{"panel":"B","chr":1,"pos":85,"y":4.5},{"panel":"B","chr":1,"pos":130,"y":4.5},{"panel":"B","chr":1,"pos":190,"y":4.6},{"panel":"B","chr":1,"pos":260,"y":4.5},{"panel":"B","chr":1,"pos":295,"y":4.3},
      {"panel":"B","chr":2,"pos":331,"y":6.0},{"panel":"B","chr":2,"pos":399,"y":5.6},{"panel":"B","chr":2,"pos":327,"y":4.8},{"panel":"B","chr":2,"pos":341,"y":4.6},{"panel":"B","chr":2,"pos":392,"y":5.0},{"panel":"B","chr":2,"pos":406,"y":4.6},{"panel":"B","chr":2,"pos":420,"y":4.25},{"panel":"B","chr":2,"pos":536,"y":5.0},{"panel":"B","chr":2,"pos":558,"y":5.4},{"panel":"B","chr":2,"pos":572,"y":5.4},{"panel":"B","chr":2,"pos":568,"y":4.4},{"panel":"B","chr":2,"pos":363,"y":4.1},
      {"panel":"B","chr":2,"pos":315,"y":4.6},{"panel":"B","chr":2,"pos":355,"y":4.8},{"panel":"B","chr":2,"pos":375,"y":4.6},{"panel":"B","chr":2,"pos":440,"y":4.0},{"panel":"B","chr":2,"pos":470,"y":4.0},{"panel":"B","chr":2,"pos":500,"y":4.1},{"panel":"B","chr":2,"pos":520,"y":4.1},{"panel":"B","chr":2,"pos":550,"y":4.2},
      {"panel":"B","chr":3,"pos":820,"y":5.75},{"panel":"B","chr":3,"pos":810,"y":4.6},{"panel":"B","chr":3,"pos":625,"y":4.4},{"panel":"B","chr":3,"pos":682,"y":4.4},{"panel":"B","chr":3,"pos":770,"y":4.25},{"panel":"B","chr":3,"pos":725,"y":4.1},{"panel":"B","chr":3,"pos":601,"y":4.1},
      {"panel":"B","chr":3,"pos":590,"y":4.4},{"panel":"B","chr":3,"pos":650,"y":4.4},{"panel":"B","chr":3,"pos":700,"y":4.3},{"panel":"B","chr":3,"pos":750,"y":4.3},{"panel":"B","chr":3,"pos":795,"y":4.5},
      {"panel":"B","chr":4,"pos":834,"y":4.25},{"panel":"B","chr":4,"pos":885,"y":5.1},{"panel":"B","chr":4,"pos":891,"y":4.6},{"panel":"B","chr":4,"pos":913,"y":4.2},{"panel":"B","chr":4,"pos":941,"y":4.6},{"panel":"B","chr":4,"pos":858,"y":4.1},
      {"panel":"B","chr":4,"pos":845,"y":4.3},{"panel":"B","chr":4,"pos":870,"y":4.4},{"panel":"B","chr":4,"pos":925,"y":4.3},{"panel":"B","chr":4,"pos":950,"y":4.2},
      {"panel":"B","chr":5,"pos":1030,"y":5.9},{"panel":"B","chr":5,"pos":994,"y":5.4},{"panel":"B","chr":5,"pos":1050,"y":4.5},{"panel":"B","chr":5,"pos":1072,"y":4.4},{"panel":"B","chr":5,"pos":972,"y":4.1},{"panel":"B","chr":5,"pos":1015,"y":4.25},
      {"panel":"B","chr":5,"pos":965,"y":4.2},{"panel":"B","chr":5,"pos":985,"y":4.3},{"panel":"B","chr":5,"pos":1040,"y":4.4},{"panel":"B","chr":5,"pos":1060,"y":4.4},
      {"panel":"B","chr":6,"pos":1161,"y":6.0},{"panel":"B","chr":6,"pos":1153,"y":5.0},{"panel":"B","chr":6,"pos":1167,"y":4.8},{"panel":"B","chr":6,"pos":1182,"y":4.25},{"panel":"B","chr":6,"pos":1094,"y":4.6},{"panel":"B","chr":6,"pos":1125,"y":4.1},{"panel":"B","chr":6,"pos":1106,"y":4.2},
      {"panel":"B","chr":6,"pos":1085,"y":4.4},{"panel":"B","chr":6,"pos":1115,"y":4.5},{"panel":"B","chr":6,"pos":1140,"y":4.6},{"panel":"B","chr":6,"pos":1195,"y":4.4},
      {"panel":"B","chr":7,"pos":1248,"y":5.25},{"panel":"B","chr":7,"pos":1286,"y":5.1},{"panel":"B","chr":7,"pos":1225,"y":4.8},{"panel":"B","chr":7,"pos":1305,"y":4.6},{"panel":"B","chr":7,"pos":1267,"y":4.25},
      {"panel":"B","chr":7,"pos":1215,"y":4.5},{"panel":"B","chr":7,"pos":1240,"y":4.6},{"panel":"B","chr":7,"pos":1280,"y":4.6},{"panel":"B","chr":7,"pos":1298,"y":4.5},
      {"panel":"B","chr":8,"pos":1334,"y":5.0},{"panel":"B","chr":8,"pos":1367,"y":5.0},{"panel":"B","chr":8,"pos":1353,"y":4.25},{"panel":"B","chr":8,"pos":1363,"y":5.2},{"panel":"B","chr":8,"pos":1400,"y":5.1},{"panel":"B","chr":8,"pos":1400,"y":4.4},{"panel":"B","chr":8,"pos":1383,"y":4.1},
      {"panel":"B","chr":8,"pos":1322,"y":4.4},{"panel":"B","chr":8,"pos":1345,"y":4.6},{"panel":"B","chr":8,"pos":1392,"y":4.7},
      {"panel":"B","chr":9,"pos":1430,"y":6.75},{"panel":"B","chr":9,"pos":1432,"y":5.1},{"panel":"B","chr":9,"pos":1480,"y":6.0},{"panel":"B","chr":9,"pos":1482,"y":5.3},{"panel":"B","chr":9,"pos":1501,"y":5.1},{"panel":"B","chr":9,"pos":1449,"y":4.25},
      {"panel":"B","chr":9,"pos":1415,"y":4.5},{"panel":"B","chr":9,"pos":1465,"y":4.8},{"panel":"B","chr":9,"pos":1495,"y":4.6},
      {"panel":"B","chr":10,"pos":1534,"y":4.7},{"panel":"B","chr":10,"pos":1562,"y":4.6},{"panel":"B","chr":10,"pos":1590,"y":4.25},{"panel":"B","chr":10,"pos":1522,"y":4.3},{"panel":"B","chr":10,"pos":1548,"y":4.25},
      {"panel":"B","chr":10,"pos":1515,"y":4.5},{"panel":"B","chr":10,"pos":1575,"y":4.5},{"panel":"B","chr":10,"pos":1595,"y":4.2},
      {"panel":"B","chr":11,"pos":1665,"y":6.2},{"panel":"B","chr":11,"pos":1616,"y":4.5},{"panel":"B","chr":11,"pos":1632,"y":4.0},{"panel":"B","chr":11,"pos":1658,"y":4.4},
      {"panel":"B","chr":11,"pos":1610,"y":4.1},{"panel":"B","chr":11,"pos":1648,"y":4.2},
      {"panel":"B","chr":12,"pos":1684,"y":5.3},{"panel":"B","chr":12,"pos":1689,"y":4.6},{"panel":"B","chr":12,"pos":1708,"y":3.9},{"panel":"B","chr":12,"pos":1757,"y":4.1},{"panel":"B","chr":12,"pos":1731,"y":3.8},
      {"panel":"B","chr":12,"pos":1680,"y":4.1},{"panel":"B","chr":12,"pos":1720,"y":4.0},{"panel":"B","chr":12,"pos":1745,"y":4.1},
      {"panel":"B","chr":13,"pos":1789,"y":5.6},{"panel":"B","chr":13,"pos":1773,"y":5.0},{"panel":"B","chr":13,"pos":1797,"y":5.0},{"panel":"B","chr":13,"pos":1825,"y":4.6},{"panel":"B","chr":13,"pos":1844,"y":4.2},
      {"panel":"B","chr":13,"pos":1765,"y":4.5},{"panel":"B","chr":13,"pos":1810,"y":4.6},{"panel":"B","chr":13,"pos":1835,"y":4.5},
      {"panel":"B","chr":14,"pos":1864,"y":4.8},{"panel":"B","chr":14,"pos":1878,"y":4.1},{"panel":"B","chr":14,"pos":1910,"y":3.9},
      {"panel":"B","chr":14,"pos":1855,"y":4.2},{"panel":"B","chr":14,"pos":1895,"y":4.0},
      {"panel":"B","chr":15,"pos":1945,"y":4.6},{"panel":"B","chr":15,"pos":1933,"y":4.25},{"panel":"B","chr":15,"pos":1975,"y":4.1},{"panel":"B","chr":15,"pos":1994,"y":4.0},
      {"panel":"B","chr":15,"pos":1925,"y":4.2},{"panel":"B","chr":15,"pos":1955,"y":4.4},{"panel":"B","chr":15,"pos":1985,"y":4.3},
      {"panel":"B","chr":16,"pos":2048,"y":4.6},{"panel":"B","chr":16,"pos":2074,"y":4.25},{"panel":"B","chr":16,"pos":2032,"y":3.8},
      {"panel":"B","chr":16,"pos":2015,"y":3.9},{"panel":"B","chr":16,"pos":2060,"y":4.1},
      {"panel":"B","chr":17,"pos":2115,"y":5.7},{"panel":"B","chr":17,"pos":2107,"y":5.3},{"panel":"B","chr":17,"pos":2102,"y":4.6},{"panel":"B","chr":17,"pos":2126,"y":4.4},{"panel":"B","chr":17,"pos":2154,"y":4.2},
      {"panel":"B","chr":17,"pos":2095,"y":4.6},{"panel":"B","chr":17,"pos":2140,"y":4.7},
      {"panel":"B","chr":18,"pos":2188,"y":4.8},{"panel":"B","chr":18,"pos":2236,"y":4.6},{"panel":"B","chr":18,"pos":2215,"y":4.25},{"panel":"B","chr":18,"pos":2227,"y":4.2},{"panel":"B","chr":18,"pos":2173,"y":4.2},
      {"panel":"B","chr":18,"pos":2180,"y":4.4},{"panel":"B","chr":18,"pos":2205,"y":4.5},
      {"panel":"B","chr":19,"pos":2281,"y":4.8},{"panel":"B","chr":19,"pos":2265,"y":4.2},{"panel":"B","chr":19,"pos":2295,"y":4.25},
      {"panel":"B","chr":19,"pos":2250,"y":4.3},{"panel":"B","chr":19,"pos":2275,"y":4.4},
      {"panel":"B","chr":20,"pos":2333,"y":5.25},{"panel":"B","chr":20,"pos":2319,"y":4.4},{"panel":"B","chr":20,"pos":2351,"y":4.25},
      {"panel":"B","chr":20,"pos":2312,"y":4.3},{"panel":"B","chr":20,"pos":2340,"y":4.4},
      {"panel":"B","chr":21,"pos":2392,"y":4.9},{"panel":"B","chr":21,"pos":2378,"y":4.7},{"panel":"B","chr":21,"pos":2406,"y":4.25},
      {"panel":"B","chr":21,"pos":2370,"y":4.4},{"panel":"B","chr":21,"pos":2400,"y":4.6},
      {"panel":"B","chr":22,"pos":2439,"y":4.6},{"panel":"B","chr":22,"pos":2450,"y":4.1},{"panel":"B","chr":22,"pos":2431,"y":4.25},
      {"panel":"B","chr":22,"pos":2422,"y":4.1},{"panel":"B","chr":22,"pos":2460,"y":3.9},
      {"panel":"B","chr":23,"pos":2509,"y":4.6},{"panel":"B","chr":23,"pos":2538,"y":4.4},{"panel":"B","chr":23,"pos":2492,"y":3.9},
      {"panel":"B","chr":23,"pos":2482,"y":3.9},{"panel":"B","chr":23,"pos":2520,"y":4.1},
      {"panel":"B","chr":24,"pos":2586,"y":5.8},{"panel":"B","chr":24,"pos":2549,"y":3.9},
      {"panel":"B","chr":24,"pos":2550,"y":4.2},{"panel":"B","chr":24,"pos":2575,"y":4.3},
      {"panel":"B","chr":25,"pos":2596,"y":5.1},{"panel":"B","chr":25,"pos":2638,"y":5.1},{"panel":"B","chr":25,"pos":2615,"y":4.6},
      {"panel":"B","chr":25,"pos":2600,"y":4.5},{"panel":"B","chr":25,"pos":2625,"y":4.7},
      {"panel":"B","chr":26,"pos":2652,"y":5.5},{"panel":"B","chr":26,"pos":2652,"y":5.0},{"panel":"B","chr":26,"pos":2692,"y":4.7},{"panel":"B","chr":26,"pos":2671,"y":4.25},
      {"panel":"B","chr":26,"pos":2645,"y":4.5},{"panel":"B","chr":26,"pos":2682,"y":4.3},

      {"panel":"C","chr":1,"pos":20,"y":11.0},{"panel":"C","chr":1,"pos":20,"y":10.0},{"panel":"C","chr":1,"pos":39,"y":9.8},{"panel":"C","chr":1,"pos":25,"y":8.9},{"panel":"C","chr":1,"pos":39,"y":9.4},{"panel":"C","chr":1,"pos":6,"y":7.5},{"panel":"C","chr":1,"pos":82,"y":8.5},{"panel":"C","chr":1,"pos":92,"y":7.9},{"panel":"C","chr":1,"pos":73,"y":7.6},{"panel":"C","chr":1,"pos":208,"y":10.6},{"panel":"C","chr":1,"pos":170,"y":9.5},{"panel":"C","chr":1,"pos":169,"y":8.2},{"panel":"C","chr":1,"pos":209,"y":7.8},{"panel":"C","chr":1,"pos":223,"y":6.9},{"panel":"C","chr":1,"pos":249,"y":9.4},{"panel":"C","chr":1,"pos":273,"y":9.25},{"panel":"C","chr":1,"pos":277,"y":8.2},{"panel":"C","chr":1,"pos":249,"y":8.5},{"panel":"C","chr":1,"pos":292,"y":8.7},{"panel":"C","chr":1,"pos":115,"y":6.2},{"panel":"C","chr":1,"pos":192,"y":6.9},{"panel":"C","chr":1,"pos":139,"y":5.9},
      {"panel":"C","chr":1,"pos":10,"y":6.8},{"panel":"C","chr":1,"pos":30,"y":6.6},{"panel":"C","chr":1,"pos":50,"y":7.0},{"panel":"C","chr":1,"pos":60,"y":6.4},{"panel":"C","chr":1,"pos":100,"y":6.5},{"panel":"C","chr":1,"pos":120,"y":6.0},{"panel":"C","chr":1,"pos":150,"y":6.3},{"panel":"C","chr":1,"pos":160,"y":7.2},{"panel":"C","chr":1,"pos":180,"y":6.6},{"panel":"C","chr":1,"pos":200,"y":6.4},{"panel":"C","chr":1,"pos":235,"y":6.6},{"panel":"C","chr":1,"pos":260,"y":7.0},{"panel":"C","chr":1,"pos":285,"y":6.8},{"panel":"C","chr":1,"pos":300,"y":6.5},
      {"panel":"C","chr":2,"pos":317,"y":9.7},{"panel":"C","chr":2,"pos":317,"y":8.8},{"panel":"C","chr":2,"pos":349,"y":9.8},{"panel":"C","chr":2,"pos":360,"y":10.1},{"panel":"C","chr":2,"pos":370,"y":9.1},{"panel":"C","chr":2,"pos":358,"y":8.0},{"panel":"C","chr":2,"pos":347,"y":7.8},{"panel":"C","chr":2,"pos":404,"y":8.5},{"panel":"C","chr":2,"pos":404,"y":7.3},{"panel":"C","chr":2,"pos":485,"y":9.7},{"panel":"C","chr":2,"pos":517,"y":9.7},{"panel":"C","chr":2,"pos":522,"y":9.25},{"panel":"C","chr":2,"pos":556,"y":10.5},{"panel":"C","chr":2,"pos":558,"y":9.1},{"panel":"C","chr":2,"pos":572,"y":9.0},{"panel":"C","chr":2,"pos":572,"y":7.8},{"panel":"C","chr":2,"pos":544,"y":7.6},{"panel":"C","chr":2,"pos":439,"y":7.5},{"panel":"C","chr":2,"pos":458,"y":7.1},{"panel":"C","chr":2,"pos":487,"y":7.1},{"panel":"C","chr":2,"pos":420,"y":6.6},{"panel":"C","chr":2,"pos":325,"y":7.1},{"panel":"C","chr":2,"pos":334,"y":7.6},
      {"panel":"C","chr":2,"pos":310,"y":6.8},{"panel":"C","chr":2,"pos":330,"y":6.9},{"panel":"C","chr":2,"pos":370,"y":6.9},{"panel":"C","chr":2,"pos":390,"y":6.5},{"panel":"C","chr":2,"pos":430,"y":6.4},{"panel":"C","chr":2,"pos":470,"y":6.6},{"panel":"C","chr":2,"pos":500,"y":6.8},{"panel":"C","chr":2,"pos":530,"y":6.7},{"panel":"C","chr":2,"pos":560,"y":6.9},{"panel":"C","chr":2,"pos":575,"y":7.0},
      {"panel":"C","chr":3,"pos":606,"y":9.8},{"panel":"C","chr":3,"pos":606,"y":8.9},{"panel":"C","chr":3,"pos":637,"y":10.25},{"panel":"C","chr":3,"pos":639,"y":8.5},{"panel":"C","chr":3,"pos":698,"y":10.4},{"panel":"C","chr":3,"pos":696,"y":8.4},{"panel":"C","chr":3,"pos":723,"y":9.1},{"panel":"C","chr":3,"pos":737,"y":10.5},{"panel":"C","chr":3,"pos":737,"y":9.6},{"panel":"C","chr":3,"pos":737,"y":8.7},{"panel":"C","chr":3,"pos":780,"y":11.6},{"panel":"C","chr":3,"pos":790,"y":11.1},{"panel":"C","chr":3,"pos":784,"y":9.6},{"panel":"C","chr":3,"pos":787,"y":8.9},{"panel":"C","chr":3,"pos":761,"y":8.2},{"panel":"C","chr":3,"pos":806,"y":8.4},{"panel":"C","chr":3,"pos":806,"y":7.6},{"panel":"C","chr":3,"pos":610,"y":7.6},{"panel":"C","chr":3,"pos":668,"y":7.3},{"panel":"C","chr":3,"pos":649,"y":6.75},
      {"panel":"C","chr":3,"pos":590,"y":6.6},{"panel":"C","chr":3,"pos":625,"y":6.7},{"panel":"C","chr":3,"pos":655,"y":6.3},{"panel":"C","chr":3,"pos":680,"y":6.6},{"panel":"C","chr":3,"pos":710,"y":6.6},{"panel":"C","chr":3,"pos":750,"y":6.9},{"panel":"C","chr":3,"pos":770,"y":7.2},{"panel":"C","chr":3,"pos":800,"y":6.8},{"panel":"C","chr":3,"pos":815,"y":6.7},
      {"panel":"C","chr":4,"pos":831,"y":10.1},{"panel":"C","chr":4,"pos":839,"y":9.4},{"panel":"C","chr":4,"pos":874,"y":10.0},{"panel":"C","chr":4,"pos":863,"y":8.8},{"panel":"C","chr":4,"pos":882,"y":9.4},{"panel":"C","chr":4,"pos":908,"y":9.0},{"panel":"C","chr":4,"pos":910,"y":8.2},{"panel":"C","chr":4,"pos":915,"y":7.8},{"panel":"C","chr":4,"pos":842,"y":7.8},{"panel":"C","chr":4,"pos":944,"y":7.6},{"panel":"C","chr":4,"pos":948,"y":6.75},{"panel":"C","chr":4,"pos":887,"y":7.3},{"panel":"C","chr":4,"pos":934,"y":6.4},
      {"panel":"C","chr":4,"pos":835,"y":7.0},{"panel":"C","chr":4,"pos":855,"y":7.1},{"panel":"C","chr":4,"pos":870,"y":6.9},{"panel":"C","chr":4,"pos":895,"y":6.8},{"panel":"C","chr":4,"pos":925,"y":6.3},{"panel":"C","chr":4,"pos":950,"y":5.8},
      {"panel":"C","chr":5,"pos":1004,"y":10.8},{"panel":"C","chr":5,"pos":1044,"y":8.7},{"panel":"C","chr":5,"pos":1063,"y":9.4},{"panel":"C","chr":5,"pos":972,"y":7.8},{"panel":"C","chr":5,"pos":999,"y":8.0},{"panel":"C","chr":5,"pos":1025,"y":7.3},{"panel":"C","chr":5,"pos":972,"y":6.2},{"panel":"C","chr":5,"pos":1053,"y":7.1},
      {"panel":"C","chr":5,"pos":965,"y":6.0},{"panel":"C","chr":5,"pos":985,"y":5.7},{"panel":"C","chr":5,"pos":1015,"y":5.9},{"panel":"C","chr":5,"pos":1035,"y":6.2},{"panel":"C","chr":5,"pos":1060,"y":6.3},
      {"panel":"C","chr":6,"pos":1123,"y":11.0},{"panel":"C","chr":6,"pos":1123,"y":9.4},{"panel":"C","chr":6,"pos":1121,"y":8.6},{"panel":"C","chr":6,"pos":1082,"y":7.6},{"panel":"C","chr":6,"pos":1139,"y":8.4},{"panel":"C","chr":6,"pos":1153,"y":7.8},{"panel":"C","chr":6,"pos":1177,"y":7.8},{"panel":"C","chr":6,"pos":1200,"y":7.8},{"panel":"C","chr":6,"pos":1091,"y":6.9},{"panel":"C","chr":6,"pos":1163,"y":7.1},{"panel":"C","chr":6,"pos":1110,"y":7.6},
      {"panel":"C","chr":6,"pos":1080,"y":6.6},{"panel":"C","chr":6,"pos":1100,"y":7.0},{"panel":"C","chr":6,"pos":1130,"y":7.3},{"panel":"C","chr":6,"pos":1150,"y":7.0},{"panel":"C","chr":6,"pos":1185,"y":6.8},{"panel":"C","chr":6,"pos":1195,"y":6.4},
      {"panel":"C","chr":7,"pos":1255,"y":9.5},{"panel":"C","chr":7,"pos":1291,"y":8.6},{"panel":"C","chr":7,"pos":1310,"y":8.6},{"panel":"C","chr":7,"pos":1218,"y":7.8},{"panel":"C","chr":7,"pos":1239,"y":6.9},{"panel":"C","chr":7,"pos":1277,"y":6.6},{"panel":"C","chr":7,"pos":1305,"y":7.5},
      {"panel":"C","chr":7,"pos":1210,"y":6.2},{"panel":"C","chr":7,"pos":1230,"y":6.4},{"panel":"C","chr":7,"pos":1265,"y":6.2},{"panel":"C","chr":7,"pos":1295,"y":6.5},{"panel":"C","chr":7,"pos":1300,"y":6.6},
      {"panel":"C","chr":8,"pos":1350,"y":8.8},{"panel":"C","chr":8,"pos":1334,"y":7.8},{"panel":"C","chr":8,"pos":1367,"y":7.6},{"panel":"C","chr":8,"pos":1385,"y":10.25},{"panel":"C","chr":8,"pos":1385,"y":9.1},{"panel":"C","chr":8,"pos":1385,"y":8.4},{"panel":"C","chr":8,"pos":1374,"y":7.6},{"panel":"C","chr":8,"pos":1397,"y":6.9},{"panel":"C","chr":8,"pos":1364,"y":6.75},
      {"panel":"C","chr":8,"pos":1320,"y":6.8},{"panel":"C","chr":8,"pos":1340,"y":7.0},{"panel":"C","chr":8,"pos":1360,"y":7.1},{"panel":"C","chr":8,"pos":1395,"y":6.8},
      {"panel":"C","chr":9,"pos":1441,"y":8.2},{"panel":"C","chr":9,"pos":1428,"y":6.9},{"panel":"C","chr":9,"pos":1460,"y":7.5},{"panel":"C","chr":9,"pos":1491,"y":5.9},{"panel":"C","chr":9,"pos":1505,"y":6.2},{"panel":"C","chr":9,"pos":1449,"y":6.4},
      {"panel":"C","chr":9,"pos":1415,"y":5.7},{"panel":"C","chr":9,"pos":1435,"y":5.4},{"panel":"C","chr":9,"pos":1470,"y":5.0},{"panel":"C","chr":9,"pos":1500,"y":5.1},
      {"panel":"C","chr":10,"pos":1520,"y":8.2},{"panel":"C","chr":10,"pos":1520,"y":7.3},{"panel":"C","chr":10,"pos":1551,"y":6.9},{"panel":"C","chr":10,"pos":1579,"y":7.6},{"panel":"C","chr":10,"pos":1598,"y":7.6},{"panel":"C","chr":10,"pos":1538,"y":6.2},{"panel":"C","chr":10,"pos":1567,"y":6.4},
      {"panel":"C","chr":10,"pos":1515,"y":5.4},{"panel":"C","chr":10,"pos":1530,"y":5.6},{"panel":"C","chr":10,"pos":1560,"y":6.0},{"panel":"C","chr":10,"pos":1585,"y":5.8},
      {"panel":"C","chr":11,"pos":1621,"y":10.0},{"panel":"C","chr":11,"pos":1640,"y":8.9},{"panel":"C","chr":11,"pos":1663,"y":10.25},{"panel":"C","chr":11,"pos":1670,"y":11.0},{"panel":"C","chr":11,"pos":1665,"y":8.2},{"panel":"C","chr":11,"pos":1628,"y":7.8},{"panel":"C","chr":11,"pos":1651,"y":7.5},
      {"panel":"C","chr":11,"pos":1610,"y":6.8},{"panel":"C","chr":11,"pos":1640,"y":7.2},{"panel":"C","chr":11,"pos":1660,"y":7.4},
      {"panel":"C","chr":12,"pos":1703,"y":9.3},{"panel":"C","chr":12,"pos":1703,"y":8.5},{"panel":"C","chr":12,"pos":1681,"y":8.2},{"panel":"C","chr":12,"pos":1740,"y":10.25},{"panel":"C","chr":12,"pos":1757,"y":10.0},{"panel":"C","chr":12,"pos":1750,"y":9.8},{"panel":"C","chr":12,"pos":1739,"y":8.8},{"panel":"C","chr":12,"pos":1755,"y":9.0},{"panel":"C","chr":12,"pos":1689,"y":6.9},{"panel":"C","chr":12,"pos":1708,"y":7.5},{"panel":"C","chr":12,"pos":1722,"y":6.6},{"panel":"C","chr":12,"pos":1752,"y":7.8},
      {"panel":"C","chr":12,"pos":1680,"y":5.8},{"panel":"C","chr":12,"pos":1695,"y":6.2},{"panel":"C","chr":12,"pos":1715,"y":6.0},{"panel":"C","chr":12,"pos":1735,"y":6.1},{"panel":"C","chr":12,"pos":1748,"y":6.7},
      {"panel":"C","chr":13,"pos":1787,"y":10.9},{"panel":"C","chr":13,"pos":1787,"y":9.8},{"panel":"C","chr":13,"pos":1792,"y":8.7},{"panel":"C","chr":13,"pos":1769,"y":7.5},{"panel":"C","chr":13,"pos":1839,"y":9.6},{"panel":"C","chr":13,"pos":1844,"y":8.2},{"panel":"C","chr":13,"pos":1816,"y":7.8},{"panel":"C","chr":13,"pos":1783,"y":6.75},
      {"panel":"C","chr":13,"pos":1765,"y":7.0},{"panel":"C","chr":13,"pos":1800,"y":7.4},{"panel":"C","chr":13,"pos":1830,"y":6.9},{"panel":"C","chr":13,"pos":1845,"y":6.7},
      {"panel":"C","chr":14,"pos":1870,"y":7.8},{"panel":"C","chr":14,"pos":1867,"y":6.9},{"panel":"C","chr":14,"pos":1908,"y":7.5},{"panel":"C","chr":14,"pos":1915,"y":6.9},{"panel":"C","chr":14,"pos":1891,"y":6.2},
      {"panel":"C","chr":14,"pos":1855,"y":6.5},{"panel":"C","chr":14,"pos":1880,"y":6.4},{"panel":"C","chr":14,"pos":1905,"y":6.6},
      {"panel":"C","chr":15,"pos":1935,"y":13.0},{"panel":"C","chr":15,"pos":1935,"y":9.1},{"panel":"C","chr":15,"pos":1938,"y":8.4},{"panel":"C","chr":15,"pos":1957,"y":7.8},{"panel":"C","chr":15,"pos":2004,"y":8.9},{"panel":"C","chr":15,"pos":1999,"y":8.0},{"panel":"C","chr":15,"pos":1966,"y":6.9},{"panel":"C","chr":15,"pos":1985,"y":6.2},
      {"panel":"C","chr":15,"pos":1925,"y":6.2},{"panel":"C","chr":15,"pos":1945,"y":6.0},{"panel":"C","chr":15,"pos":1975,"y":5.8},{"panel":"C","chr":15,"pos":1995,"y":6.3},
      {"panel":"C","chr":16,"pos":2038,"y":11.2},{"panel":"C","chr":16,"pos":2038,"y":10.7},{"panel":"C","chr":16,"pos":2025,"y":9.4},{"panel":"C","chr":16,"pos":2034,"y":7.6},{"panel":"C","chr":16,"pos":2069,"y":8.1},{"panel":"C","chr":16,"pos":2021,"y":7.1},{"panel":"C","chr":16,"pos":2052,"y":6.9},{"panel":"C","chr":16,"pos":2077,"y":6.75},
      {"panel":"C","chr":16,"pos":2015,"y":6.7},{"panel":"C","chr":16,"pos":2045,"y":6.9},{"panel":"C","chr":16,"pos":2065,"y":6.4},{"panel":"C","chr":16,"pos":2082,"y":6.4},
      {"panel":"C","chr":17,"pos":2096,"y":7.8},{"panel":"C","chr":17,"pos":2107,"y":8.0},{"panel":"C","chr":17,"pos":2135,"y":8.7},{"panel":"C","chr":17,"pos":2154,"y":9.4},{"panel":"C","chr":17,"pos":2121,"y":6.9},{"panel":"C","chr":17,"pos":2145,"y":7.5},{"panel":"C","chr":17,"pos":2161,"y":7.1},
      {"panel":"C","chr":17,"pos":2095,"y":6.5},{"panel":"C","chr":17,"pos":2115,"y":6.2},{"panel":"C","chr":17,"pos":2140,"y":6.4},{"panel":"C","chr":17,"pos":2158,"y":6.4},
      {"panel":"C","chr":18,"pos":2210,"y":9.6},{"panel":"C","chr":18,"pos":2210,"y":7.8},{"panel":"C","chr":18,"pos":2182,"y":8.5},{"panel":"C","chr":18,"pos":2187,"y":7.5},{"panel":"C","chr":18,"pos":2212,"y":6.9},{"panel":"C","chr":18,"pos":2236,"y":7.1},{"panel":"C","chr":18,"pos":2173,"y":7.1},
      {"panel":"C","chr":18,"pos":2170,"y":7.0},{"panel":"C","chr":18,"pos":2195,"y":6.8},{"panel":"C","chr":18,"pos":2225,"y":6.3},
      {"panel":"C","chr":19,"pos":2269,"y":9.7},{"panel":"C","chr":19,"pos":2269,"y":8.7},{"panel":"C","chr":19,"pos":2248,"y":7.8},{"panel":"C","chr":19,"pos":2286,"y":8.1},{"panel":"C","chr":19,"pos":2290,"y":7.3},{"panel":"C","chr":19,"pos":2262,"y":6.9},
      {"panel":"C","chr":19,"pos":2245,"y":6.2},{"panel":"C","chr":19,"pos":2280,"y":6.5},{"panel":"C","chr":19,"pos":2300,"y":6.0},
      {"panel":"C","chr":20,"pos":2325,"y":11.0},{"panel":"C","chr":20,"pos":2330,"y":10.5},{"panel":"C","chr":20,"pos":2339,"y":9.3},{"panel":"C","chr":20,"pos":2339,"y":8.5},{"panel":"C","chr":20,"pos":2337,"y":7.8},{"panel":"C","chr":20,"pos":2351,"y":7.5},{"panel":"C","chr":20,"pos":2319,"y":6.4},{"panel":"C","chr":20,"pos":2361,"y":7.1},
      {"panel":"C","chr":20,"pos":2312,"y":6.7},{"panel":"C","chr":20,"pos":2345,"y":7.0},{"panel":"C","chr":20,"pos":2358,"y":6.6},
      {"panel":"C","chr":21,"pos":2408,"y":8.1},{"panel":"C","chr":21,"pos":2394,"y":7.6},{"panel":"C","chr":21,"pos":2375,"y":6.9},{"panel":"C","chr":21,"pos":2413,"y":7.1},
      {"panel":"C","chr":21,"pos":2370,"y":6.5},{"panel":"C","chr":21,"pos":2385,"y":6.8},{"panel":"C","chr":21,"pos":2405,"y":6.9},
      {"panel":"C","chr":22,"pos":2457,"y":10.0},{"panel":"C","chr":22,"pos":2457,"y":7.8},{"panel":"C","chr":22,"pos":2431,"y":8.0},{"panel":"C","chr":22,"pos":2434,"y":7.3},{"panel":"C","chr":22,"pos":2469,"y":6.9},{"panel":"C","chr":22,"pos":2445,"y":6.6},
      {"panel":"C","chr":22,"pos":2422,"y":6.7},{"panel":"C","chr":22,"pos":2450,"y":6.3},{"panel":"C","chr":22,"pos":2465,"y":6.0},
      {"panel":"C","chr":23,"pos":2490,"y":7.6},{"panel":"C","chr":23,"pos":2521,"y":7.6},{"panel":"C","chr":23,"pos":2538,"y":8.1},{"panel":"C","chr":23,"pos":2507,"y":6.6},{"panel":"C","chr":23,"pos":2535,"y":7.1},
      {"panel":"C","chr":23,"pos":2480,"y":5.9},{"panel":"C","chr":23,"pos":2500,"y":5.8},{"panel":"C","chr":23,"pos":2530,"y":6.3},
      {"panel":"C","chr":24,"pos":2554,"y":7.9},{"panel":"C","chr":24,"pos":2549,"y":6.9},{"panel":"C","chr":24,"pos":2575,"y":6.9},{"panel":"C","chr":24,"pos":2549,"y":5.9},{"panel":"C","chr":24,"pos":2582,"y":6.4},{"panel":"C","chr":24,"pos":2563,"y":7.3},
      {"panel":"C","chr":24,"pos":2545,"y":6.5},{"panel":"C","chr":24,"pos":2570,"y":6.3},{"panel":"C","chr":24,"pos":2585,"y":5.8},
      {"panel":"C","chr":25,"pos":2631,"y":9.5},{"panel":"C","chr":25,"pos":2631,"y":8.7},{"panel":"C","chr":25,"pos":2633,"y":7.8},{"panel":"C","chr":25,"pos":2619,"y":6.9},{"panel":"C","chr":25,"pos":2605,"y":5.7},
      {"panel":"C","chr":25,"pos":2595,"y":5.6},{"panel":"C","chr":25,"pos":2612,"y":5.8},{"panel":"C","chr":25,"pos":2628,"y":6.3},
      {"panel":"C","chr":26,"pos":2650,"y":9.6},{"panel":"C","chr":26,"pos":2650,"y":8.7},{"panel":"C","chr":26,"pos":2650,"y":7.8},{"panel":"C","chr":26,"pos":2669,"y":6.75},{"panel":"C","chr":26,"pos":2687,"y":7.6},{"panel":"C","chr":26,"pos":2685,"y":6.7},{"panel":"C","chr":26,"pos":2663,"y":6.0},
      {"panel":"C","chr":26,"pos":2645,"y":6.7},{"panel":"C","chr":26,"pos":2675,"y":6.2},{"panel":"C","chr":26,"pos":2692,"y":6.0},

      {"panel":"D","chr":1,"pos":41,"y":9.3},{"panel":"D","chr":1,"pos":82,"y":8.5},{"panel":"D","chr":1,"pos":169,"y":9.1},{"panel":"D","chr":1,"pos":169,"y":8.2},{"panel":"D","chr":1,"pos":169,"y":7.1},{"panel":"D","chr":1,"pos":20,"y":6.9},{"panel":"D","chr":1,"pos":35,"y":7.1},{"panel":"D","chr":1,"pos":211,"y":7.1},{"panel":"D","chr":1,"pos":251,"y":7.4},{"panel":"D","chr":1,"pos":273,"y":6.6},{"panel":"D","chr":1,"pos":58,"y":6.1},{"panel":"D","chr":1,"pos":144,"y":5.6},{"panel":"D","chr":1,"pos":192,"y":5.9},{"panel":"D","chr":1,"pos":106,"y":5.7},{"panel":"D","chr":1,"pos":6,"y":6.5},
      {"panel":"D","chr":1,"pos":12,"y":6.2},{"panel":"D","chr":1,"pos":25,"y":6.4},{"panel":"D","chr":1,"pos":48,"y":6.3},{"panel":"D","chr":1,"pos":70,"y":6.2},{"panel":"D","chr":1,"pos":90,"y":6.0},{"panel":"D","chr":1,"pos":120,"y":5.3},{"panel":"D","chr":1,"pos":150,"y":5.1},{"panel":"D","chr":1,"pos":175,"y":6.0},{"panel":"D","chr":1,"pos":205,"y":6.2},{"panel":"D","chr":1,"pos":230,"y":6.3},{"panel":"D","chr":1,"pos":260,"y":6.2},{"panel":"D","chr":1,"pos":290,"y":5.9},
      {"panel":"D","chr":2,"pos":317,"y":9.1},{"panel":"D","chr":2,"pos":353,"y":8.8},{"panel":"D","chr":2,"pos":330,"y":7.9},{"panel":"D","chr":2,"pos":344,"y":7.4},{"panel":"D","chr":2,"pos":377,"y":7.1},{"panel":"D","chr":2,"pos":413,"y":7.4},{"panel":"D","chr":2,"pos":485,"y":8.1},{"panel":"D","chr":2,"pos":463,"y":7.4},{"panel":"D","chr":2,"pos":515,"y":6.7},{"panel":"D","chr":2,"pos":554,"y":8.9},{"panel":"D","chr":2,"pos":571,"y":8.3},{"panel":"D","chr":2,"pos":574,"y":6.9},{"panel":"D","chr":2,"pos":544,"y":7.1},{"panel":"D","chr":2,"pos":320,"y":6.3},{"panel":"D","chr":2,"pos":420,"y":5.9},{"panel":"D","chr":2,"pos":444,"y":6.7},
      {"panel":"D","chr":2,"pos":310,"y":7.0},{"panel":"D","chr":2,"pos":325,"y":6.8},{"panel":"D","chr":2,"pos":360,"y":6.6},{"panel":"D","chr":2,"pos":395,"y":6.3},{"panel":"D","chr":2,"pos":430,"y":6.1},{"panel":"D","chr":2,"pos":475,"y":6.3},{"panel":"D","chr":2,"pos":505,"y":6.5},{"panel":"D","chr":2,"pos":530,"y":6.5},{"panel":"D","chr":2,"pos":560,"y":6.6},
      {"panel":"D","chr":3,"pos":606,"y":9.4},{"panel":"D","chr":3,"pos":639,"y":8.1},{"panel":"D","chr":3,"pos":698,"y":7.9},{"panel":"D","chr":3,"pos":780,"y":9.9},{"panel":"D","chr":3,"pos":790,"y":9.5},{"panel":"D","chr":3,"pos":784,"y":7.8},{"panel":"D","chr":3,"pos":806,"y":7.7},{"panel":"D","chr":3,"pos":744,"y":7.4},{"panel":"D","chr":3,"pos":658,"y":6.9},{"panel":"D","chr":3,"pos":610,"y":6.7},{"panel":"D","chr":3,"pos":725,"y":6.7},{"panel":"D","chr":3,"pos":682,"y":6.3},
      {"panel":"D","chr":3,"pos":585,"y":6.4},{"panel":"D","chr":3,"pos":595,"y":6.6},{"panel":"D","chr":3,"pos":630,"y":6.3},{"panel":"D","chr":3,"pos":670,"y":6.6},{"panel":"D","chr":3,"pos":710,"y":6.4},{"panel":"D","chr":3,"pos":735,"y":6.6},{"panel":"D","chr":3,"pos":760,"y":6.6},{"panel":"D","chr":3,"pos":795,"y":6.8},{"panel":"D","chr":3,"pos":815,"y":6.4},
      {"panel":"D","chr":4,"pos":831,"y":7.6},{"panel":"D","chr":4,"pos":877,"y":7.8},{"panel":"D","chr":4,"pos":908,"y":8.6},{"panel":"D","chr":4,"pos":915,"y":8.1},{"panel":"D","chr":4,"pos":901,"y":6.9},{"panel":"D","chr":4,"pos":887,"y":6.3},{"panel":"D","chr":4,"pos":944,"y":6.1},{"panel":"D","chr":4,"pos":954,"y":5.7},{"panel":"D","chr":4,"pos":849,"y":6.5},
      {"panel":"D","chr":4,"pos":830,"y":6.7},{"panel":"D","chr":4,"pos":845,"y":6.6},{"panel":"D","chr":4,"pos":865,"y":6.5},{"panel":"D","chr":4,"pos":895,"y":6.3},{"panel":"D","chr":4,"pos":920,"y":5.7},{"panel":"D","chr":4,"pos":940,"y":5.2},
      {"panel":"D","chr":5,"pos":969,"y":8.2},{"panel":"D","chr":5,"pos":969,"y":7.4},{"panel":"D","chr":5,"pos":969,"y":6.5},{"panel":"D","chr":5,"pos":1069,"y":7.6},{"panel":"D","chr":5,"pos":1048,"y":6.9},{"panel":"D","chr":5,"pos":1001,"y":5.9},{"panel":"D","chr":5,"pos":1034,"y":6.7},{"panel":"D","chr":5,"pos":1015,"y":5.7},
      {"panel":"D","chr":5,"pos":965,"y":5.2},{"panel":"D","chr":5,"pos":990,"y":5.3},{"panel":"D","chr":5,"pos":1025,"y":5.6},{"panel":"D","chr":5,"pos":1055,"y":5.8},{"panel":"D","chr":5,"pos":1070,"y":5.9},
      {"panel":"D","chr":6,"pos":1123,"y":7.9},{"panel":"D","chr":6,"pos":1123,"y":6.9},{"panel":"D","chr":6,"pos":1175,"y":7.6},{"panel":"D","chr":6,"pos":1175,"y":6.7},{"panel":"D","chr":6,"pos":1085,"y":6.2},{"panel":"D","chr":6,"pos":1110,"y":6.1},{"panel":"D","chr":6,"pos":1139,"y":6.6},{"panel":"D","chr":6,"pos":1193,"y":5.9},
      {"panel":"D","chr":6,"pos":1080,"y":5.8},{"panel":"D","chr":6,"pos":1100,"y":6.2},{"panel":"D","chr":6,"pos":1130,"y":6.1},{"panel":"D","chr":6,"pos":1160,"y":6.1},{"panel":"D","chr":6,"pos":1185,"y":6.0},
      {"panel":"D","chr":7,"pos":1255,"y":8.6},{"panel":"D","chr":7,"pos":1255,"y":7.8},{"panel":"D","chr":7,"pos":1218,"y":7.9},{"panel":"D","chr":7,"pos":1231,"y":6.7},{"panel":"D","chr":7,"pos":1244,"y":6.5},{"panel":"D","chr":7,"pos":1291,"y":6.3},{"panel":"D","chr":7,"pos":1277,"y":5.9},
      {"panel":"D","chr":7,"pos":1210,"y":6.1},{"panel":"D","chr":7,"pos":1225,"y":6.3},{"panel":"D","chr":7,"pos":1265,"y":6.3},{"panel":"D","chr":7,"pos":1285,"y":6.0},{"panel":"D","chr":7,"pos":1305,"y":5.8},
      {"panel":"D","chr":8,"pos":1350,"y":8.9},{"panel":"D","chr":8,"pos":1350,"y":8.2},{"panel":"D","chr":8,"pos":1350,"y":7.4},{"panel":"D","chr":8,"pos":1334,"y":6.5},{"panel":"D","chr":8,"pos":1367,"y":6.3},{"panel":"D","chr":8,"pos":1383,"y":9.0},{"panel":"D","chr":8,"pos":1388,"y":8.3},{"panel":"D","chr":8,"pos":1383,"y":7.4},{"panel":"D","chr":8,"pos":1360,"y":6.9},{"panel":"D","chr":8,"pos":1393,"y":6.5},{"panel":"D","chr":8,"pos":1374,"y":6.1},
      {"panel":"D","chr":8,"pos":1320,"y":6.3},{"panel":"D","chr":8,"pos":1340,"y":6.7},{"panel":"D","chr":8,"pos":1360,"y":6.8},{"panel":"D","chr":8,"pos":1400,"y":5.9},
      {"panel":"D","chr":9,"pos":1416,"y":7.7},{"panel":"D","chr":9,"pos":1430,"y":6.2},{"panel":"D","chr":9,"pos":1449,"y":6.7},{"panel":"D","chr":9,"pos":1468,"y":5.9},{"panel":"D","chr":9,"pos":1501,"y":5.9},{"panel":"D","chr":9,"pos":1440,"y":5.7},
      {"panel":"D","chr":9,"pos":1412,"y":6.0},{"panel":"D","chr":9,"pos":1425,"y":6.1},{"panel":"D","chr":9,"pos":1455,"y":6.1},{"panel":"D","chr":9,"pos":1480,"y":5.7},{"panel":"D","chr":9,"pos":1500,"y":5.8},
      {"panel":"D","chr":10,"pos":1552,"y":5.5},{"panel":"D","chr":10,"pos":1538,"y":5.0},{"panel":"D","chr":10,"pos":1590,"y":7.9},{"panel":"D","chr":10,"pos":1595,"y":6.9},{"panel":"D","chr":10,"pos":1599,"y":6.1},{"panel":"D","chr":10,"pos":1520,"y":4.8},{"panel":"D","chr":10,"pos":1571,"y":4.4},
      {"panel":"D","chr":10,"pos":1515,"y":4.9},{"panel":"D","chr":10,"pos":1530,"y":4.7},{"panel":"D","chr":10,"pos":1560,"y":4.5},{"panel":"D","chr":10,"pos":1585,"y":5.0},
      {"panel":"D","chr":11,"pos":1623,"y":12.5},{"panel":"D","chr":11,"pos":1662,"y":10.7},{"panel":"D","chr":11,"pos":1609,"y":6.9},{"panel":"D","chr":11,"pos":1642,"y":6.9},{"panel":"D","chr":11,"pos":1665,"y":5.9},
      {"panel":"D","chr":11,"pos":1610,"y":5.9},{"panel":"D","chr":11,"pos":1630,"y":6.3},{"panel":"D","chr":11,"pos":1655,"y":6.3},{"panel":"D","chr":11,"pos":1668,"y":6.0},
      {"panel":"D","chr":12,"pos":1740,"y":10.1},{"panel":"D","chr":12,"pos":1684,"y":6.0},{"panel":"D","chr":12,"pos":1703,"y":7.1},{"panel":"D","chr":12,"pos":1712,"y":6.5},{"panel":"D","chr":12,"pos":1740,"y":7.6},{"panel":"D","chr":12,"pos":1755,"y":7.1},{"panel":"D","chr":12,"pos":1693,"y":5.7},{"panel":"D","chr":12,"pos":1726,"y":5.5},
      {"panel":"D","chr":12,"pos":1680,"y":5.7},{"panel":"D","chr":12,"pos":1715,"y":5.8},{"panel":"D","chr":12,"pos":1745,"y":6.2},
      {"panel":"D","chr":13,"pos":1789,"y":8.8},{"panel":"D","chr":13,"pos":1789,"y":8.2},{"panel":"D","chr":13,"pos":1787,"y":7.4},{"panel":"D","chr":13,"pos":1773,"y":6.9},{"panel":"D","chr":13,"pos":1816,"y":6.5},{"panel":"D","chr":13,"pos":1845,"y":7.8},{"panel":"D","chr":13,"pos":1839,"y":6.9},
      {"panel":"D","chr":13,"pos":1765,"y":6.3},{"panel":"D","chr":13,"pos":1800,"y":6.7},{"panel":"D","chr":13,"pos":1825,"y":6.5},
      {"panel":"D","chr":14,"pos":1903,"y":8.1},{"panel":"D","chr":14,"pos":1910,"y":7.1},{"panel":"D","chr":14,"pos":1858,"y":6.9},{"panel":"D","chr":14,"pos":1877,"y":6.1},{"panel":"D","chr":14,"pos":1891,"y":5.7},
      {"panel":"D","chr":14,"pos":1855,"y":6.2},{"panel":"D","chr":14,"pos":1870,"y":5.8},{"panel":"D","chr":14,"pos":1900,"y":5.8},{"panel":"D","chr":14,"pos":1915,"y":5.9},
      {"panel":"D","chr":15,"pos":1935,"y":9.6},{"panel":"D","chr":15,"pos":1943,"y":8.0},{"panel":"D","chr":15,"pos":1999,"y":8.1},{"panel":"D","chr":15,"pos":1957,"y":6.5},{"panel":"D","chr":15,"pos":1928,"y":6.9},{"panel":"D","chr":15,"pos":2004,"y":6.5},
      {"panel":"D","chr":15,"pos":1925,"y":6.5},{"panel":"D","chr":15,"pos":1940,"y":6.0},{"panel":"D","chr":15,"pos":1970,"y":5.5},{"panel":"D","chr":15,"pos":1990,"y":5.7},
      {"panel":"D","chr":16,"pos":2022,"y":7.4},{"panel":"D","chr":16,"pos":2024,"y":6.9},{"panel":"D","chr":16,"pos":2079,"y":7.9},{"panel":"D","chr":16,"pos":2074,"y":6.9},{"panel":"D","chr":16,"pos":2041,"y":6.5},{"panel":"D","chr":16,"pos":2069,"y":5.7},
      {"panel":"D","chr":16,"pos":2015,"y":6.3},{"panel":"D","chr":16,"pos":2030,"y":6.0},{"panel":"D","chr":16,"pos":2055,"y":5.9},{"panel":"D","chr":16,"pos":2080,"y":6.1},
      {"panel":"D","chr":17,"pos":2135,"y":7.6},{"panel":"D","chr":17,"pos":2145,"y":7.6},{"panel":"D","chr":17,"pos":2154,"y":7.6},{"panel":"D","chr":17,"pos":2107,"y":6.7},{"panel":"D","chr":17,"pos":2121,"y":6.9},{"panel":"D","chr":17,"pos":2159,"y":6.3},
      {"panel":"D","chr":17,"pos":2095,"y":5.7},{"panel":"D","chr":17,"pos":2112,"y":6.4},{"panel":"D","chr":17,"pos":2130,"y":6.5},{"panel":"D","chr":17,"pos":2150,"y":6.4},
      {"panel":"D","chr":18,"pos":2187,"y":7.8},{"panel":"D","chr":18,"pos":2182,"y":6.5},{"panel":"D","chr":18,"pos":2206,"y":5.7},{"panel":"D","chr":18,"pos":2220,"y":5.9},{"panel":"D","chr":18,"pos":2231,"y":6.0},
      {"panel":"D","chr":18,"pos":2172,"y":6.5},{"panel":"D","chr":18,"pos":2195,"y":5.8},{"panel":"D","chr":18,"pos":2215,"y":5.5},
      {"panel":"D","chr":19,"pos":2257,"y":7.9},{"panel":"D","chr":19,"pos":2248,"y":7.6},{"panel":"D","chr":19,"pos":2286,"y":6.9},{"panel":"D","chr":19,"pos":2295,"y":6.8},{"panel":"D","chr":19,"pos":2272,"y":6.1},
      {"panel":"D","chr":19,"pos":2245,"y":6.2},{"panel":"D","chr":19,"pos":2265,"y":6.1},{"panel":"D","chr":19,"pos":2300,"y":5.9},
      {"panel":"D","chr":20,"pos":2325,"y":8.5},{"panel":"D","chr":20,"pos":2333,"y":7.6},{"panel":"D","chr":20,"pos":2333,"y":6.9},{"panel":"D","chr":20,"pos":2342,"y":6.1},{"panel":"D","chr":20,"pos":2319,"y":5.9},
      {"panel":"D","chr":20,"pos":2312,"y":5.7},{"panel":"D","chr":20,"pos":2328,"y":6.3},{"panel":"D","chr":20,"pos":2355,"y":5.9},
      {"panel":"D","chr":21,"pos":2375,"y":6.9},{"panel":"D","chr":21,"pos":2389,"y":6.9},{"panel":"D","chr":21,"pos":2398,"y":6.7},{"panel":"D","chr":21,"pos":2380,"y":6.3},
      {"panel":"D","chr":21,"pos":2370,"y":6.1},{"panel":"D","chr":21,"pos":2395,"y":6.5},{"panel":"D","chr":21,"pos":2410,"y":6.4},
      {"panel":"D","chr":22,"pos":2457,"y":9.1},{"panel":"D","chr":22,"pos":2457,"y":8.4},{"panel":"D","chr":22,"pos":2457,"y":7.6},{"panel":"D","chr":22,"pos":2436,"y":7.1},{"panel":"D","chr":22,"pos":2471,"y":5.7},{"panel":"D","chr":22,"pos":2427,"y":5.9},
      {"panel":"D","chr":22,"pos":2422,"y":6.1},{"panel":"D","chr":22,"pos":2440,"y":6.3},{"panel":"D","chr":22,"pos":2465,"y":5.7},
      {"panel":"D","chr":23,"pos":2494,"y":7.3},{"panel":"D","chr":23,"pos":2537,"y":6.9},{"panel":"D","chr":23,"pos":2511,"y":5.9},{"panel":"D","chr":23,"pos":2530,"y":5.7},
      {"panel":"D","chr":23,"pos":2480,"y":5.7},{"panel":"D","chr":23,"pos":2500,"y":5.5},{"panel":"D","chr":23,"pos":2520,"y":5.5},{"panel":"D","chr":23,"pos":2535,"y":5.6},
      {"panel":"D","chr":24,"pos":2579,"y":6.9},{"panel":"D","chr":24,"pos":2554,"y":6.3},{"panel":"D","chr":24,"pos":2579,"y":6.1},{"panel":"D","chr":24,"pos":2563,"y":5.9},
      {"panel":"D","chr":24,"pos":2548,"y":5.6},{"panel":"D","chr":24,"pos":2570,"y":6.0},{"panel":"D","chr":24,"pos":2583,"y":5.2},
      {"panel":"D","chr":25,"pos":2631,"y":9.7},{"panel":"D","chr":25,"pos":2635,"y":8.4},{"panel":"D","chr":25,"pos":2633,"y":6.9},{"panel":"D","chr":25,"pos":2619,"y":6.1},{"panel":"D","chr":25,"pos":2600,"y":4.8},
      {"panel":"D","chr":25,"pos":2595,"y":5.1},{"panel":"D","chr":25,"pos":2610,"y":5.6},{"panel":"D","chr":25,"pos":2625,"y":6.3},{"panel":"D","chr":25,"pos":2632,"y":6.7},
      {"panel":"D","chr":26,"pos":2649,"y":9.5},{"panel":"D","chr":26,"pos":2649,"y":9.0},{"panel":"D","chr":26,"pos":2647,"y":7.8},{"panel":"D","chr":26,"pos":2657,"y":6.9},{"panel":"D","chr":26,"pos":2662,"y":6.1},{"panel":"D","chr":26,"pos":2690,"y":6.9},{"panel":"D","chr":26,"pos":2671,"y":5.7},
      {"panel":"D","chr":26,"pos":2645,"y":6.3},{"panel":"D","chr":26,"pos":2667,"y":6.0},{"panel":"D","chr":26,"pos":2685,"y":5.9},{"panel":"D","chr":26,"pos":2695,"y":5.8}
    ]
  },
  "vconcat": [
    {
      "title": "A Females H_NH",
      "width": 1676, "height": 151,
      "encoding": {
        "x": {"field": "pos", "type": "quantitative", "scale": {"domain": [-104, 2803], "nice": false, "zero": false}, "axis": null},
        "y": {"field": "y", "type": "quantitative", "scale": {"domain": [-0.6, 15.6], "nice": false, "zero": false}, "axis": {"values": [0, 5, 10, 15], "title": "-log10(Pvalue)"}},
        "color": {"field": "chr", "type": "ordinal", "scale": {"range": ["#a9a9a9", "#000000"]}, "legend": null}
      },
      "layer": [
        {"data": {"name": "band"}, "transform": [{"filter": "datum.panel === 'A'"}], "mark": {"type": "area", "opacity": 1}, "encoding": {"y2": {"datum": -0.4}}},
        {"data": {"name": "snp"}, "transform": [{"filter": "datum.panel === 'A'"}], "mark": {"type": "circle", "size": 55, "opacity": 1}}
      ]
    },
    {
      "title": "B Males H_NH",
      "width": 1676, "height": 151,
      "encoding": {
        "x": {"field": "pos", "type": "quantitative", "scale": {"domain": [-104, 2803], "nice": false, "zero": false}, "axis": null},
        "y": {"field": "y", "type": "quantitative", "scale": {"domain": [-0.6, 15.6], "nice": false, "zero": false}, "axis": {"values": [0, 5, 10, 15], "title": "-log10(Pvalue)"}},
        "color": {"field": "chr", "type": "ordinal", "scale": {"range": ["#a9a9a9", "#000000"]}, "legend": null}
      },
      "layer": [
        {"data": {"name": "band"}, "transform": [{"filter": "datum.panel === 'B'"}], "mark": {"type": "area", "opacity": 1}, "encoding": {"y2": {"datum": -0.4}}},
        {"data": {"name": "snp"}, "transform": [{"filter": "datum.panel === 'B'"}], "mark": {"type": "circle", "size": 55, "opacity": 1}}
      ]
    },
    {
      "title": "C Females P_NP",
      "width": 1676, "height": 151,
      "encoding": {
        "x": {"field": "pos", "type": "quantitative", "scale": {"domain": [-104, 2803], "nice": false, "zero": false}, "axis": null},
        "y": {"field": "y", "type": "quantitative", "scale": {"domain": [-0.6, 15.6], "nice": false, "zero": false}, "axis": {"values": [0, 5, 10, 15], "title": "-log10(Pvalue)"}},
        "color": {"field": "chr", "type": "ordinal", "scale": {"range": ["#a9a9a9", "#000000"]}, "legend": null}
      },
      "layer": [
        {"data": {"name": "band"}, "transform": [{"filter": "datum.panel === 'C'"}], "mark": {"type": "area", "opacity": 1}, "encoding": {"y2": {"datum": -0.4}}},
        {"data": {"name": "snp"}, "transform": [{"filter": "datum.panel === 'C'"}], "mark": {"type": "circle", "size": 55, "opacity": 1}}
      ]
    },
    {
      "title": "D Males P_NP",
      "width": 1676, "height": 128,
      "encoding": {
        "x": {"field": "pos", "type": "quantitative", "scale": {"domain": [-104, 2803], "nice": false, "zero": false},
              "axis": {"title": null,
                       "values": [156, 444, 700, 890, 1014, 1136, 1254, 1360, 1464, 1558, 1640, 1722, 1810, 1890, 1970, 2052, 2132, 2208, 2280, 2342, 2398, 2452, 2514, 2574, 2620, 2670],
                       "labelExpr": "['1','2','3','4','5','6','7','8','9','10','','12','','14','','16','','18','','20','','22','','24','','26'][indexof([156, 444, 700, 890, 1014, 1136, 1254, 1360, 1464, 1558, 1640, 1722, 1810, 1890, 1970, 2052, 2132, 2208, 2280, 2342, 2398, 2452, 2514, 2574, 2620, 2670], datum.value)]"}},
        "y": {"field": "y", "type": "quantitative", "scale": {"domain": [-0.6, 15.6], "nice": false, "zero": false}, "axis": {"values": [0, 5, 10, 15], "title": "-log10(Pvalue)", "labelExpr": "datum.value == 15 ? '' : datum.label"}},
        "color": {"field": "chr", "type": "ordinal", "scale": {"range": ["#a9a9a9", "#000000"]}, "legend": null}
      },
      "layer": [
        {"data": {"name": "band"}, "transform": [{"filter": "datum.panel === 'D'"}], "mark": {"type": "area", "opacity": 1}, "encoding": {"y2": {"datum": -0.4}}},
        {"data": {"name": "snp"}, "transform": [{"filter": "datum.panel === 'D'"}], "mark": {"type": "circle", "size": 55, "opacity": 1}}
      ]
    }
  ]
}
